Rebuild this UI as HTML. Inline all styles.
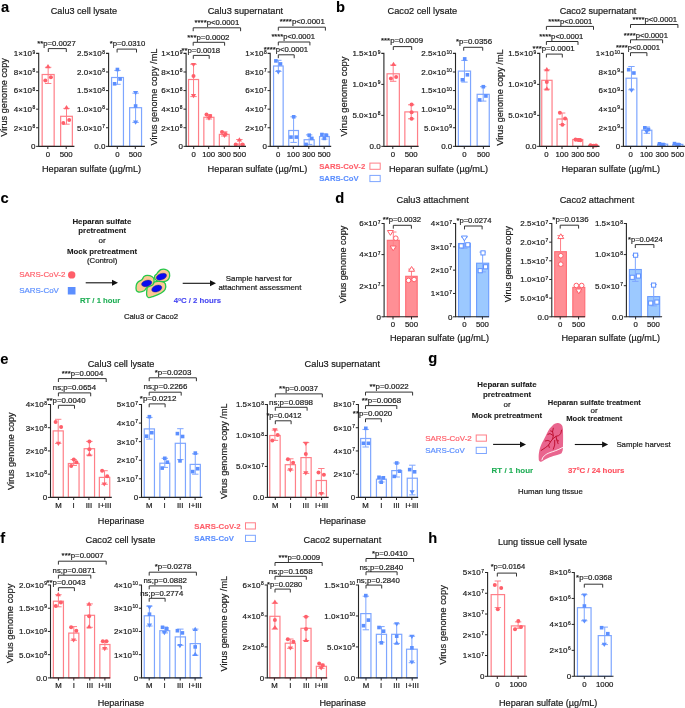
<!DOCTYPE html>
<html><head><meta charset="utf-8"><style>
html,body{margin:0;padding:0;background:#fff;}
svg{display:block;will-change:transform;}
text{font-family:"Liberation Sans",sans-serif;}
</style></head><body>
<svg width="685" height="708" viewBox="0 0 685 708">
<rect width="685" height="708" fill="#fff"/>
<text x="0.90" y="12.00" font-size="15.5" text-anchor="start" font-weight="bold" fill="#000" stroke="#000" stroke-width="0.1" textLength="8.19" lengthAdjust="spacingAndGlyphs">a</text>
<text x="335.90" y="12.00" font-size="15.5" text-anchor="start" font-weight="bold" fill="#000" stroke="#000" stroke-width="0.1" textLength="8.99" lengthAdjust="spacingAndGlyphs">b</text>
<text x="0.50" y="202.70" font-size="15.5" text-anchor="start" font-weight="bold" fill="#000" stroke="#000" stroke-width="0.1" textLength="8.19" lengthAdjust="spacingAndGlyphs">c</text>
<text x="335.30" y="202.70" font-size="15.5" text-anchor="start" font-weight="bold" fill="#000" stroke="#000" stroke-width="0.1" textLength="8.99" lengthAdjust="spacingAndGlyphs">d</text>
<text x="0.20" y="364.00" font-size="15.5" text-anchor="start" font-weight="bold" fill="#000" stroke="#000" stroke-width="0.1" textLength="8.19" lengthAdjust="spacingAndGlyphs">e</text>
<text x="428.30" y="363.20" font-size="15.5" text-anchor="start" font-weight="bold" fill="#000" stroke="#000" stroke-width="0.1" textLength="8.99" lengthAdjust="spacingAndGlyphs">g</text>
<text x="0.20" y="543.20" font-size="15.5" text-anchor="start" font-weight="bold" fill="#000" stroke="#000" stroke-width="0.1" textLength="4.90" lengthAdjust="spacingAndGlyphs">f</text>
<text x="428.30" y="543.20" font-size="15.5" text-anchor="start" font-weight="bold" fill="#000" stroke="#000" stroke-width="0.1" textLength="8.99" lengthAdjust="spacingAndGlyphs">h</text>
<text x="50.80" y="13.89" font-size="9.2" text-anchor="start" font-weight="normal" fill="#1a1a1a" stroke="#1a1a1a" stroke-width="0.2" textLength="66.20" lengthAdjust="spacingAndGlyphs">Calu3 cell lysate</text>
<text x="207.70" y="14.09" font-size="9.2" text-anchor="start" font-weight="normal" fill="#1a1a1a" stroke="#1a1a1a" stroke-width="0.2" textLength="75.40" lengthAdjust="spacingAndGlyphs">Calu3 supernatant</text>
<text x="387.50" y="14.29" font-size="9.2" text-anchor="start" font-weight="normal" fill="#1a1a1a" stroke="#1a1a1a" stroke-width="0.2" textLength="69.70" lengthAdjust="spacingAndGlyphs">Caco2 cell lysate</text>
<text x="559.70" y="14.29" font-size="9.2" text-anchor="start" font-weight="normal" fill="#1a1a1a" stroke="#1a1a1a" stroke-width="0.2" textLength="76.70" lengthAdjust="spacingAndGlyphs">Caco2 supernatant</text>
<text x="42.00" y="172.29" font-size="9.2" text-anchor="start" font-weight="normal" fill="#1a1a1a" stroke="#1a1a1a" stroke-width="0.2" textLength="99.10" lengthAdjust="spacingAndGlyphs">Heparan sulfate (µg/mL)</text>
<text x="207.60" y="172.29" font-size="9.2" text-anchor="start" font-weight="normal" fill="#1a1a1a" stroke="#1a1a1a" stroke-width="0.2" textLength="99.80" lengthAdjust="spacingAndGlyphs">Heparan sulfate (µg/mL)</text>
<text x="388.90" y="171.89" font-size="9.2" text-anchor="start" font-weight="normal" fill="#1a1a1a" stroke="#1a1a1a" stroke-width="0.2" textLength="99.30" lengthAdjust="spacingAndGlyphs">Heparan sulfate (µg/mL)</text>
<text x="561.50" y="171.89" font-size="9.2" text-anchor="start" font-weight="normal" fill="#1a1a1a" stroke="#1a1a1a" stroke-width="0.2" textLength="98.50" lengthAdjust="spacingAndGlyphs">Heparan sulfate (µg/mL)</text>
<text x="7.10" y="97.40" font-size="9.2" text-anchor="middle" fill="#1a1a1a" stroke="#1a1a1a" stroke-width="0.2" transform="rotate(-90 7.10 97.40)" textLength="78.60" lengthAdjust="spacingAndGlyphs">Virus genome copy</text>
<text x="156.50" y="97.00" font-size="9.2" text-anchor="middle" fill="#1a1a1a" stroke="#1a1a1a" stroke-width="0.2" transform="rotate(-90 156.50 97.00)" textLength="97.00" lengthAdjust="spacingAndGlyphs">Virus genome copy /mL</text>
<text x="346.60" y="96.50" font-size="9.2" text-anchor="middle" fill="#1a1a1a" stroke="#1a1a1a" stroke-width="0.2" transform="rotate(-90 346.60 96.50)" textLength="80.00" lengthAdjust="spacingAndGlyphs">Virus genome copy</text>
<text x="503.00" y="97.50" font-size="9.2" text-anchor="middle" fill="#1a1a1a" stroke="#1a1a1a" stroke-width="0.2" transform="rotate(-90 503.00 97.50)" textLength="96.40" lengthAdjust="spacingAndGlyphs">Virus genome copy /mL</text>
<text x="319.20" y="169.03" font-size="7.9" text-anchor="start" font-weight="bold" fill="#ff5f6a" stroke="#ff5f6a" stroke-width="0.1" textLength="46.00" lengthAdjust="spacingAndGlyphs">SARS-CoV-2</text>
<text x="319.20" y="181.33" font-size="7.9" text-anchor="start" font-weight="bold" fill="#5c8fff" stroke="#5c8fff" stroke-width="0.1" textLength="39.40" lengthAdjust="spacingAndGlyphs">SARS-CoV</text>
<rect x="369.90" y="163.10" width="10.30" height="6.2" fill="none" stroke="#ff7f88" stroke-width="1"/>
<rect x="369.90" y="175.40" width="10.30" height="6.2" fill="none" stroke="#7ea6ff" stroke-width="1"/>
<rect x="42.15" y="74.50" width="12.00" height="71.85" fill="none" stroke="#ff7f88" stroke-width="1.2"/>
<rect x="60.65" y="116.30" width="11.70" height="30.05" fill="none" stroke="#ff7f88" stroke-width="1.2"/>
<line x1="48.15" y1="67.30" x2="48.15" y2="83.50" stroke="#ff7f88" stroke-width="1.0"/>
<line x1="44.95" y1="67.30" x2="51.35" y2="67.30" stroke="#ff7f88" stroke-width="1.0"/>
<line x1="44.95" y1="83.50" x2="51.35" y2="83.50" stroke="#ff7f88" stroke-width="1.0"/>
<path d="M48.00,64.10 L50.60,68.29 L45.40,68.29Z" fill="#ff5f6a"/>
<circle cx="45.30" cy="80.40" r="2.00" fill="#ff5f6a"/>
<circle cx="50.90" cy="77.20" r="2.00" fill="#ff5f6a"/>
<line x1="66.50" y1="108.40" x2="66.50" y2="124.20" stroke="#ff7f88" stroke-width="1.0"/>
<line x1="63.30" y1="108.40" x2="69.70" y2="108.40" stroke="#ff7f88" stroke-width="1.0"/>
<line x1="63.30" y1="124.20" x2="69.70" y2="124.20" stroke="#ff7f88" stroke-width="1.0"/>
<path d="M66.50,105.10 L69.10,109.29 L63.90,109.29Z" fill="#ff5f6a"/>
<circle cx="63.30" cy="123.00" r="2.00" fill="#ff5f6a"/>
<circle cx="69.20" cy="119.90" r="2.00" fill="#ff5f6a"/>
<path d="M36.10,53.40 H38.70 V146.35 H74.40" fill="none" stroke="#262626" stroke-width="1.1"/>
<line x1="36.10" y1="71.99" x2="38.70" y2="71.99" stroke="#262626" stroke-width="1.0"/>
<line x1="36.10" y1="90.58" x2="38.70" y2="90.58" stroke="#262626" stroke-width="1.0"/>
<line x1="36.10" y1="109.17" x2="38.70" y2="109.17" stroke="#262626" stroke-width="1.0"/>
<line x1="36.10" y1="127.76" x2="38.70" y2="127.76" stroke="#262626" stroke-width="1.0"/>
<line x1="36.10" y1="146.35" x2="38.70" y2="146.35" stroke="#262626" stroke-width="1.0"/>
<text x="35.20" y="53.50" font-size="4.9" text-anchor="end" font-weight="normal" fill="#1a1a1a" stroke="#1a1a1a" stroke-width="0.2">9</text>
<text x="31.88" y="56.25" font-size="8.0" text-anchor="end" font-weight="normal" fill="#1a1a1a" stroke="#1a1a1a" stroke-width="0.2">1×10</text>
<text x="35.20" y="72.09" font-size="4.9" text-anchor="end" font-weight="normal" fill="#1a1a1a" stroke="#1a1a1a" stroke-width="0.2">8</text>
<text x="31.88" y="74.84" font-size="8.0" text-anchor="end" font-weight="normal" fill="#1a1a1a" stroke="#1a1a1a" stroke-width="0.2">8×10</text>
<text x="35.20" y="90.68" font-size="4.9" text-anchor="end" font-weight="normal" fill="#1a1a1a" stroke="#1a1a1a" stroke-width="0.2">8</text>
<text x="31.88" y="93.43" font-size="8.0" text-anchor="end" font-weight="normal" fill="#1a1a1a" stroke="#1a1a1a" stroke-width="0.2">6×10</text>
<text x="35.20" y="109.27" font-size="4.9" text-anchor="end" font-weight="normal" fill="#1a1a1a" stroke="#1a1a1a" stroke-width="0.2">8</text>
<text x="31.88" y="112.02" font-size="8.0" text-anchor="end" font-weight="normal" fill="#1a1a1a" stroke="#1a1a1a" stroke-width="0.2">4×10</text>
<text x="35.20" y="127.86" font-size="4.9" text-anchor="end" font-weight="normal" fill="#1a1a1a" stroke="#1a1a1a" stroke-width="0.2">8</text>
<text x="31.88" y="130.61" font-size="8.0" text-anchor="end" font-weight="normal" fill="#1a1a1a" stroke="#1a1a1a" stroke-width="0.2">2×10</text>
<text x="35.50" y="149.20" font-size="8.0" text-anchor="end" font-weight="normal" fill="#1a1a1a" stroke="#1a1a1a" stroke-width="0.2">0</text>
<line x1="47.80" y1="146.35" x2="47.80" y2="148.95" stroke="#262626" stroke-width="1.0"/>
<text x="47.80" y="156.85" font-size="7.8" text-anchor="middle" font-weight="normal" fill="#1a1a1a" stroke="#1a1a1a" stroke-width="0.2">0</text>
<line x1="66.20" y1="146.35" x2="66.20" y2="148.95" stroke="#262626" stroke-width="1.0"/>
<text x="66.20" y="156.85" font-size="7.8" text-anchor="middle" font-weight="normal" fill="#1a1a1a" stroke="#1a1a1a" stroke-width="0.2">500</text>
<path d="M48.30,52.00 V48.60 H66.30 V52.00" fill="none" stroke="#333" stroke-width="1"/>
<text x="37.20" y="46.26" font-size="8.0" text-anchor="start" font-weight="normal" fill="#1a1a1a" stroke="#1a1a1a" stroke-width="0.2" textLength="38.50" lengthAdjust="spacingAndGlyphs">**p=0.0027</text>
<rect x="111.55" y="77.50" width="11.90" height="68.85" fill="none" stroke="#7ea6ff" stroke-width="1.2"/>
<rect x="129.65" y="107.70" width="11.90" height="38.65" fill="none" stroke="#7ea6ff" stroke-width="1.2"/>
<line x1="117.50" y1="70.40" x2="117.50" y2="84.30" stroke="#7ea6ff" stroke-width="1.0"/>
<line x1="114.30" y1="70.40" x2="120.70" y2="70.40" stroke="#7ea6ff" stroke-width="1.0"/>
<line x1="114.30" y1="84.30" x2="120.70" y2="84.30" stroke="#7ea6ff" stroke-width="1.0"/>
<rect x="115.60" y="67.70" width="3.60" height="3.60" fill="#5c8fff"/>
<rect x="118.30" y="77.20" width="3.60" height="3.60" fill="#5c8fff"/>
<rect x="112.80" y="82.00" width="3.60" height="3.60" fill="#5c8fff"/>
<line x1="135.60" y1="93.20" x2="135.60" y2="122.40" stroke="#7ea6ff" stroke-width="1.0"/>
<line x1="132.40" y1="93.20" x2="138.80" y2="93.20" stroke="#7ea6ff" stroke-width="1.0"/>
<line x1="132.40" y1="122.40" x2="138.80" y2="122.40" stroke="#7ea6ff" stroke-width="1.0"/>
<path d="M135.60,95.30 L138.20,91.11 L133.00,91.11Z" fill="#5c8fff"/>
<rect x="133.80" y="104.20" width="3.60" height="3.60" fill="#5c8fff"/>
<path d="M135.60,124.70 L138.20,120.51 L133.00,120.51Z" fill="#5c8fff"/>
<path d="M106.00,53.40 H108.60 V146.35 H144.90" fill="none" stroke="#262626" stroke-width="1.1"/>
<line x1="106.00" y1="71.99" x2="108.60" y2="71.99" stroke="#262626" stroke-width="1.0"/>
<line x1="106.00" y1="90.58" x2="108.60" y2="90.58" stroke="#262626" stroke-width="1.0"/>
<line x1="106.00" y1="109.17" x2="108.60" y2="109.17" stroke="#262626" stroke-width="1.0"/>
<line x1="106.00" y1="127.76" x2="108.60" y2="127.76" stroke="#262626" stroke-width="1.0"/>
<line x1="106.00" y1="146.35" x2="108.60" y2="146.35" stroke="#262626" stroke-width="1.0"/>
<text x="105.10" y="53.50" font-size="4.9" text-anchor="end" font-weight="normal" fill="#1a1a1a" stroke="#1a1a1a" stroke-width="0.2">8</text>
<text x="101.78" y="56.25" font-size="8.0" text-anchor="end" font-weight="normal" fill="#1a1a1a" stroke="#1a1a1a" stroke-width="0.2">2.5×10</text>
<text x="105.10" y="72.09" font-size="4.9" text-anchor="end" font-weight="normal" fill="#1a1a1a" stroke="#1a1a1a" stroke-width="0.2">8</text>
<text x="101.78" y="74.84" font-size="8.0" text-anchor="end" font-weight="normal" fill="#1a1a1a" stroke="#1a1a1a" stroke-width="0.2">2.0×10</text>
<text x="105.10" y="90.68" font-size="4.9" text-anchor="end" font-weight="normal" fill="#1a1a1a" stroke="#1a1a1a" stroke-width="0.2">8</text>
<text x="101.78" y="93.43" font-size="8.0" text-anchor="end" font-weight="normal" fill="#1a1a1a" stroke="#1a1a1a" stroke-width="0.2">1.5×10</text>
<text x="105.10" y="109.27" font-size="4.9" text-anchor="end" font-weight="normal" fill="#1a1a1a" stroke="#1a1a1a" stroke-width="0.2">8</text>
<text x="101.78" y="112.02" font-size="8.0" text-anchor="end" font-weight="normal" fill="#1a1a1a" stroke="#1a1a1a" stroke-width="0.2">1.0×10</text>
<text x="105.10" y="127.86" font-size="4.9" text-anchor="end" font-weight="normal" fill="#1a1a1a" stroke="#1a1a1a" stroke-width="0.2">7</text>
<text x="101.78" y="130.61" font-size="8.0" text-anchor="end" font-weight="normal" fill="#1a1a1a" stroke="#1a1a1a" stroke-width="0.2">5.0×10</text>
<text x="105.40" y="149.20" font-size="8.0" text-anchor="end" font-weight="normal" fill="#1a1a1a" stroke="#1a1a1a" stroke-width="0.2">0.0</text>
<line x1="117.30" y1="146.35" x2="117.30" y2="148.95" stroke="#262626" stroke-width="1.0"/>
<text x="117.30" y="156.85" font-size="7.8" text-anchor="middle" font-weight="normal" fill="#1a1a1a" stroke="#1a1a1a" stroke-width="0.2">0</text>
<line x1="135.30" y1="146.35" x2="135.30" y2="148.95" stroke="#262626" stroke-width="1.0"/>
<text x="135.30" y="156.85" font-size="7.8" text-anchor="middle" font-weight="normal" fill="#1a1a1a" stroke="#1a1a1a" stroke-width="0.2">500</text>
<path d="M117.10,52.50 V49.10 H136.50 V52.50" fill="none" stroke="#333" stroke-width="1"/>
<text x="109.70" y="46.16" font-size="8.0" text-anchor="start" font-weight="normal" fill="#1a1a1a" stroke="#1a1a1a" stroke-width="0.2" textLength="35.50" lengthAdjust="spacingAndGlyphs">*p=0.0310</text>
<rect x="188.55" y="79.50" width="10.00" height="66.85" fill="none" stroke="#ff7f88" stroke-width="1.2"/>
<rect x="203.85" y="117.30" width="10.10" height="29.05" fill="none" stroke="#ff7f88" stroke-width="1.2"/>
<rect x="219.35" y="134.40" width="9.80" height="11.95" fill="none" stroke="#ff7f88" stroke-width="1.2"/>
<rect x="234.55" y="144.10" width="9.60" height="2.25" fill="none" stroke="#ff7f88" stroke-width="1.2"/>
<line x1="193.55" y1="64.30" x2="193.55" y2="96.60" stroke="#ff7f88" stroke-width="1.0"/>
<line x1="190.35" y1="64.30" x2="196.75" y2="64.30" stroke="#ff7f88" stroke-width="1.0"/>
<line x1="190.35" y1="96.60" x2="196.75" y2="96.60" stroke="#ff7f88" stroke-width="1.0"/>
<path d="M193.50,67.10 L196.10,62.91 L190.90,62.91Z" fill="#ff5f6a"/>
<circle cx="193.50" cy="76.10" r="2.00" fill="#ff5f6a"/>
<path d="M193.50,98.30 L196.10,94.11 L190.90,94.11Z" fill="#ff5f6a"/>
<line x1="208.90" y1="114.70" x2="208.90" y2="119.00" stroke="#ff7f88" stroke-width="1.0"/>
<line x1="205.70" y1="114.70" x2="212.10" y2="114.70" stroke="#ff7f88" stroke-width="1.0"/>
<line x1="205.70" y1="119.00" x2="212.10" y2="119.00" stroke="#ff7f88" stroke-width="1.0"/>
<circle cx="206.50" cy="114.40" r="2.00" fill="#ff5f6a"/>
<circle cx="210.20" cy="116.10" r="2.00" fill="#ff5f6a"/>
<path d="M209.00,120.70 L211.60,116.51 L206.40,116.51Z" fill="#ff5f6a"/>
<line x1="224.25" y1="131.80" x2="224.25" y2="136.00" stroke="#ff7f88" stroke-width="1.0"/>
<line x1="221.05" y1="131.80" x2="227.45" y2="131.80" stroke="#ff7f88" stroke-width="1.0"/>
<line x1="221.05" y1="136.00" x2="227.45" y2="136.00" stroke="#ff7f88" stroke-width="1.0"/>
<circle cx="222.00" cy="132.00" r="2.00" fill="#ff5f6a"/>
<circle cx="225.50" cy="133.90" r="2.00" fill="#ff5f6a"/>
<path d="M224.50,138.10 L227.10,133.91 L221.90,133.91Z" fill="#ff5f6a"/>
<line x1="239.35" y1="139.50" x2="239.35" y2="146.00" stroke="#ff7f88" stroke-width="1.0"/>
<line x1="236.15" y1="139.50" x2="242.55" y2="139.50" stroke="#ff7f88" stroke-width="1.0"/>
<line x1="236.15" y1="146.00" x2="242.55" y2="146.00" stroke="#ff7f88" stroke-width="1.0"/>
<path d="M239.40,137.20 L242.00,141.39 L236.80,141.39Z" fill="#ff5f6a"/>
<circle cx="235.70" cy="144.50" r="2.00" fill="#ff5f6a"/>
<circle cx="242.50" cy="144.50" r="2.00" fill="#ff5f6a"/>
<path d="M183.50,53.40 H186.10 V146.35 H246.00" fill="none" stroke="#262626" stroke-width="1.1"/>
<line x1="183.50" y1="71.99" x2="186.10" y2="71.99" stroke="#262626" stroke-width="1.0"/>
<line x1="183.50" y1="90.58" x2="186.10" y2="90.58" stroke="#262626" stroke-width="1.0"/>
<line x1="183.50" y1="109.17" x2="186.10" y2="109.17" stroke="#262626" stroke-width="1.0"/>
<line x1="183.50" y1="127.76" x2="186.10" y2="127.76" stroke="#262626" stroke-width="1.0"/>
<line x1="183.50" y1="146.35" x2="186.10" y2="146.35" stroke="#262626" stroke-width="1.0"/>
<text x="182.60" y="53.50" font-size="4.9" text-anchor="end" font-weight="normal" fill="#1a1a1a" stroke="#1a1a1a" stroke-width="0.2">9</text>
<text x="179.28" y="56.25" font-size="8.0" text-anchor="end" font-weight="normal" fill="#1a1a1a" stroke="#1a1a1a" stroke-width="0.2">1×10</text>
<text x="182.60" y="72.09" font-size="4.9" text-anchor="end" font-weight="normal" fill="#1a1a1a" stroke="#1a1a1a" stroke-width="0.2">8</text>
<text x="179.28" y="74.84" font-size="8.0" text-anchor="end" font-weight="normal" fill="#1a1a1a" stroke="#1a1a1a" stroke-width="0.2">8×10</text>
<text x="182.60" y="90.68" font-size="4.9" text-anchor="end" font-weight="normal" fill="#1a1a1a" stroke="#1a1a1a" stroke-width="0.2">8</text>
<text x="179.28" y="93.43" font-size="8.0" text-anchor="end" font-weight="normal" fill="#1a1a1a" stroke="#1a1a1a" stroke-width="0.2">6×10</text>
<text x="182.60" y="109.27" font-size="4.9" text-anchor="end" font-weight="normal" fill="#1a1a1a" stroke="#1a1a1a" stroke-width="0.2">8</text>
<text x="179.28" y="112.02" font-size="8.0" text-anchor="end" font-weight="normal" fill="#1a1a1a" stroke="#1a1a1a" stroke-width="0.2">4×10</text>
<text x="182.60" y="127.86" font-size="4.9" text-anchor="end" font-weight="normal" fill="#1a1a1a" stroke="#1a1a1a" stroke-width="0.2">8</text>
<text x="179.28" y="130.61" font-size="8.0" text-anchor="end" font-weight="normal" fill="#1a1a1a" stroke="#1a1a1a" stroke-width="0.2">2×10</text>
<text x="182.90" y="149.20" font-size="8.0" text-anchor="end" font-weight="normal" fill="#1a1a1a" stroke="#1a1a1a" stroke-width="0.2">0</text>
<line x1="193.70" y1="146.35" x2="193.70" y2="148.95" stroke="#262626" stroke-width="1.0"/>
<text x="193.70" y="156.85" font-size="7.8" text-anchor="middle" font-weight="normal" fill="#1a1a1a" stroke="#1a1a1a" stroke-width="0.2">0</text>
<line x1="208.70" y1="146.35" x2="208.70" y2="148.95" stroke="#262626" stroke-width="1.0"/>
<text x="208.70" y="156.85" font-size="7.8" text-anchor="middle" font-weight="normal" fill="#1a1a1a" stroke="#1a1a1a" stroke-width="0.2">100</text>
<line x1="224.30" y1="146.35" x2="224.30" y2="148.95" stroke="#262626" stroke-width="1.0"/>
<text x="224.30" y="156.85" font-size="7.8" text-anchor="middle" font-weight="normal" fill="#1a1a1a" stroke="#1a1a1a" stroke-width="0.2">300</text>
<line x1="239.50" y1="146.35" x2="239.50" y2="148.95" stroke="#262626" stroke-width="1.0"/>
<text x="239.50" y="156.85" font-size="7.8" text-anchor="middle" font-weight="normal" fill="#1a1a1a" stroke="#1a1a1a" stroke-width="0.2">500</text>
<path d="M193.30,58.80 V55.40 H209.20 V58.80" fill="none" stroke="#333" stroke-width="1"/>
<text x="181.50" y="52.86" font-size="8.0" text-anchor="start" font-weight="normal" fill="#1a1a1a" stroke="#1a1a1a" stroke-width="0.2" textLength="38.70" lengthAdjust="spacingAndGlyphs">**p=0.0018</text>
<path d="M193.20,45.70 V42.30 H224.60 V45.70" fill="none" stroke="#333" stroke-width="1"/>
<text x="187.30" y="39.76" font-size="8.0" text-anchor="start" font-weight="normal" fill="#1a1a1a" stroke="#1a1a1a" stroke-width="0.2" textLength="42.10" lengthAdjust="spacingAndGlyphs">***p=0.0002</text>
<path d="M193.20,31.20 V27.80 H240.60 V31.20" fill="none" stroke="#333" stroke-width="1"/>
<text x="194.60" y="25.06" font-size="8.0" text-anchor="start" font-weight="normal" fill="#1a1a1a" stroke="#1a1a1a" stroke-width="0.2" textLength="44.60" lengthAdjust="spacingAndGlyphs">****p&lt;0.0001</text>
<rect x="273.55" y="66.00" width="9.60" height="80.35" fill="none" stroke="#7ea6ff" stroke-width="1.2"/>
<rect x="288.75" y="130.50" width="9.70" height="15.85" fill="none" stroke="#7ea6ff" stroke-width="1.2"/>
<rect x="304.15" y="139.70" width="10.00" height="6.65" fill="none" stroke="#7ea6ff" stroke-width="1.2"/>
<rect x="319.55" y="136.50" width="9.70" height="9.85" fill="none" stroke="#7ea6ff" stroke-width="1.2"/>
<line x1="278.35" y1="60.30" x2="278.35" y2="71.40" stroke="#7ea6ff" stroke-width="1.0"/>
<line x1="275.15" y1="60.30" x2="281.55" y2="60.30" stroke="#7ea6ff" stroke-width="1.0"/>
<line x1="275.15" y1="71.40" x2="281.55" y2="71.40" stroke="#7ea6ff" stroke-width="1.0"/>
<rect x="274.10" y="59.10" width="3.60" height="3.60" fill="#5c8fff"/>
<rect x="278.70" y="62.10" width="3.60" height="3.60" fill="#5c8fff"/>
<path d="M278.30,74.40 L280.90,70.21 L275.70,70.21Z" fill="#5c8fff"/>
<line x1="293.60" y1="116.80" x2="293.60" y2="142.40" stroke="#7ea6ff" stroke-width="1.0"/>
<line x1="290.40" y1="116.80" x2="296.80" y2="116.80" stroke="#7ea6ff" stroke-width="1.0"/>
<line x1="290.40" y1="142.40" x2="296.80" y2="142.40" stroke="#7ea6ff" stroke-width="1.0"/>
<rect x="291.90" y="115.00" width="3.60" height="3.60" fill="#5c8fff"/>
<rect x="289.20" y="135.30" width="3.60" height="3.60" fill="#5c8fff"/>
<rect x="294.50" y="135.30" width="3.60" height="3.60" fill="#5c8fff"/>
<line x1="309.15" y1="134.90" x2="309.15" y2="144.40" stroke="#7ea6ff" stroke-width="1.0"/>
<line x1="305.95" y1="134.90" x2="312.35" y2="134.90" stroke="#7ea6ff" stroke-width="1.0"/>
<line x1="305.95" y1="144.40" x2="312.35" y2="144.40" stroke="#7ea6ff" stroke-width="1.0"/>
<rect x="307.40" y="133.40" width="3.60" height="3.60" fill="#5c8fff"/>
<rect x="310.00" y="136.60" width="3.60" height="3.60" fill="#5c8fff"/>
<rect x="304.30" y="142.60" width="3.60" height="3.60" fill="#5c8fff"/>
<line x1="324.40" y1="133.80" x2="324.40" y2="139.10" stroke="#7ea6ff" stroke-width="1.0"/>
<line x1="321.20" y1="133.80" x2="327.60" y2="133.80" stroke="#7ea6ff" stroke-width="1.0"/>
<line x1="321.20" y1="139.10" x2="327.60" y2="139.10" stroke="#7ea6ff" stroke-width="1.0"/>
<rect x="320.10" y="132.70" width="3.60" height="3.60" fill="#5c8fff"/>
<rect x="324.70" y="133.60" width="3.60" height="3.60" fill="#5c8fff"/>
<rect x="322.50" y="136.60" width="3.60" height="3.60" fill="#5c8fff"/>
<path d="M267.60,53.40 H270.20 V146.35 H331.20" fill="none" stroke="#262626" stroke-width="1.1"/>
<line x1="267.60" y1="71.99" x2="270.20" y2="71.99" stroke="#262626" stroke-width="1.0"/>
<line x1="267.60" y1="90.58" x2="270.20" y2="90.58" stroke="#262626" stroke-width="1.0"/>
<line x1="267.60" y1="109.17" x2="270.20" y2="109.17" stroke="#262626" stroke-width="1.0"/>
<line x1="267.60" y1="127.76" x2="270.20" y2="127.76" stroke="#262626" stroke-width="1.0"/>
<line x1="267.60" y1="146.35" x2="270.20" y2="146.35" stroke="#262626" stroke-width="1.0"/>
<text x="266.70" y="53.50" font-size="4.9" text-anchor="end" font-weight="normal" fill="#1a1a1a" stroke="#1a1a1a" stroke-width="0.2">8</text>
<text x="263.38" y="56.25" font-size="8.0" text-anchor="end" font-weight="normal" fill="#1a1a1a" stroke="#1a1a1a" stroke-width="0.2">1×10</text>
<text x="266.70" y="72.09" font-size="4.9" text-anchor="end" font-weight="normal" fill="#1a1a1a" stroke="#1a1a1a" stroke-width="0.2">7</text>
<text x="263.38" y="74.84" font-size="8.0" text-anchor="end" font-weight="normal" fill="#1a1a1a" stroke="#1a1a1a" stroke-width="0.2">8×10</text>
<text x="266.70" y="90.68" font-size="4.9" text-anchor="end" font-weight="normal" fill="#1a1a1a" stroke="#1a1a1a" stroke-width="0.2">7</text>
<text x="263.38" y="93.43" font-size="8.0" text-anchor="end" font-weight="normal" fill="#1a1a1a" stroke="#1a1a1a" stroke-width="0.2">6×10</text>
<text x="266.70" y="109.27" font-size="4.9" text-anchor="end" font-weight="normal" fill="#1a1a1a" stroke="#1a1a1a" stroke-width="0.2">7</text>
<text x="263.38" y="112.02" font-size="8.0" text-anchor="end" font-weight="normal" fill="#1a1a1a" stroke="#1a1a1a" stroke-width="0.2">4×10</text>
<text x="266.70" y="127.86" font-size="4.9" text-anchor="end" font-weight="normal" fill="#1a1a1a" stroke="#1a1a1a" stroke-width="0.2">7</text>
<text x="263.38" y="130.61" font-size="8.0" text-anchor="end" font-weight="normal" fill="#1a1a1a" stroke="#1a1a1a" stroke-width="0.2">2×10</text>
<text x="267.00" y="149.20" font-size="8.0" text-anchor="end" font-weight="normal" fill="#1a1a1a" stroke="#1a1a1a" stroke-width="0.2">0</text>
<line x1="278.10" y1="146.35" x2="278.10" y2="148.95" stroke="#262626" stroke-width="1.0"/>
<text x="278.10" y="156.85" font-size="7.8" text-anchor="middle" font-weight="normal" fill="#1a1a1a" stroke="#1a1a1a" stroke-width="0.2">0</text>
<line x1="293.30" y1="146.35" x2="293.30" y2="148.95" stroke="#262626" stroke-width="1.0"/>
<text x="293.30" y="156.85" font-size="7.8" text-anchor="middle" font-weight="normal" fill="#1a1a1a" stroke="#1a1a1a" stroke-width="0.2">100</text>
<line x1="308.80" y1="146.35" x2="308.80" y2="148.95" stroke="#262626" stroke-width="1.0"/>
<text x="308.80" y="156.85" font-size="7.8" text-anchor="middle" font-weight="normal" fill="#1a1a1a" stroke="#1a1a1a" stroke-width="0.2">300</text>
<line x1="324.20" y1="146.35" x2="324.20" y2="148.95" stroke="#262626" stroke-width="1.0"/>
<text x="324.20" y="156.85" font-size="7.8" text-anchor="middle" font-weight="normal" fill="#1a1a1a" stroke="#1a1a1a" stroke-width="0.2">500</text>
<path d="M278.30,58.20 V54.80 H294.20 V58.20" fill="none" stroke="#333" stroke-width="1"/>
<text x="263.70" y="51.86" font-size="8.0" text-anchor="start" font-weight="normal" fill="#1a1a1a" stroke="#1a1a1a" stroke-width="0.2" textLength="44.40" lengthAdjust="spacingAndGlyphs">****p&lt;0.0001</text>
<path d="M278.30,45.40 V42.00 H309.90 V45.40" fill="none" stroke="#333" stroke-width="1"/>
<text x="271.40" y="39.36" font-size="8.0" text-anchor="start" font-weight="normal" fill="#1a1a1a" stroke="#1a1a1a" stroke-width="0.2" textLength="43.60" lengthAdjust="spacingAndGlyphs">****p&lt;0.0001</text>
<path d="M278.30,30.60 V27.20 H325.40 V30.60" fill="none" stroke="#333" stroke-width="1"/>
<text x="279.70" y="24.06" font-size="8.0" text-anchor="start" font-weight="normal" fill="#1a1a1a" stroke="#1a1a1a" stroke-width="0.2" textLength="45.10" lengthAdjust="spacingAndGlyphs">****p&lt;0.0001</text>
<rect x="387.05" y="73.80" width="12.30" height="72.55" fill="none" stroke="#ff7f88" stroke-width="1.2"/>
<rect x="404.85" y="111.90" width="12.70" height="34.45" fill="none" stroke="#ff7f88" stroke-width="1.2"/>
<line x1="393.20" y1="65.10" x2="393.20" y2="81.30" stroke="#ff7f88" stroke-width="1.0"/>
<line x1="390.00" y1="65.10" x2="396.40" y2="65.10" stroke="#ff7f88" stroke-width="1.0"/>
<line x1="390.00" y1="81.30" x2="396.40" y2="81.30" stroke="#ff7f88" stroke-width="1.0"/>
<path d="M393.50,61.70 L396.10,65.89 L390.90,65.89Z" fill="#ff5f6a"/>
<circle cx="390.90" cy="78.50" r="2.00" fill="#ff5f6a"/>
<circle cx="396.10" cy="77.00" r="2.00" fill="#ff5f6a"/>
<line x1="411.20" y1="104.80" x2="411.20" y2="118.80" stroke="#ff7f88" stroke-width="1.0"/>
<line x1="408.00" y1="104.80" x2="414.40" y2="104.80" stroke="#ff7f88" stroke-width="1.0"/>
<line x1="408.00" y1="118.80" x2="414.40" y2="118.80" stroke="#ff7f88" stroke-width="1.0"/>
<circle cx="411.60" cy="104.50" r="2.00" fill="#ff5f6a"/>
<circle cx="411.60" cy="112.30" r="2.00" fill="#ff5f6a"/>
<circle cx="411.60" cy="118.80" r="2.00" fill="#ff5f6a"/>
<path d="M381.30,53.40 H383.90 V146.35 H418.60" fill="none" stroke="#262626" stroke-width="1.1"/>
<line x1="381.30" y1="84.38" x2="383.90" y2="84.38" stroke="#262626" stroke-width="1.0"/>
<line x1="381.30" y1="115.37" x2="383.90" y2="115.37" stroke="#262626" stroke-width="1.0"/>
<line x1="381.30" y1="146.35" x2="383.90" y2="146.35" stroke="#262626" stroke-width="1.0"/>
<text x="380.40" y="53.50" font-size="4.9" text-anchor="end" font-weight="normal" fill="#1a1a1a" stroke="#1a1a1a" stroke-width="0.2">9</text>
<text x="377.08" y="56.25" font-size="8.0" text-anchor="end" font-weight="normal" fill="#1a1a1a" stroke="#1a1a1a" stroke-width="0.2">1.5×10</text>
<text x="380.40" y="84.48" font-size="4.9" text-anchor="end" font-weight="normal" fill="#1a1a1a" stroke="#1a1a1a" stroke-width="0.2">9</text>
<text x="377.08" y="87.23" font-size="8.0" text-anchor="end" font-weight="normal" fill="#1a1a1a" stroke="#1a1a1a" stroke-width="0.2">1.0×10</text>
<text x="380.40" y="115.47" font-size="4.9" text-anchor="end" font-weight="normal" fill="#1a1a1a" stroke="#1a1a1a" stroke-width="0.2">8</text>
<text x="377.08" y="118.22" font-size="8.0" text-anchor="end" font-weight="normal" fill="#1a1a1a" stroke="#1a1a1a" stroke-width="0.2">5.0×10</text>
<text x="380.70" y="149.20" font-size="8.0" text-anchor="end" font-weight="normal" fill="#1a1a1a" stroke="#1a1a1a" stroke-width="0.2">0.0</text>
<line x1="392.80" y1="146.35" x2="392.80" y2="148.95" stroke="#262626" stroke-width="1.0"/>
<text x="392.80" y="156.85" font-size="7.8" text-anchor="middle" font-weight="normal" fill="#1a1a1a" stroke="#1a1a1a" stroke-width="0.2">0</text>
<line x1="411.20" y1="146.35" x2="411.20" y2="148.95" stroke="#262626" stroke-width="1.0"/>
<text x="411.20" y="156.85" font-size="7.8" text-anchor="middle" font-weight="normal" fill="#1a1a1a" stroke="#1a1a1a" stroke-width="0.2">500</text>
<path d="M393.30,50.00 V46.60 H411.70 V50.00" fill="none" stroke="#333" stroke-width="1"/>
<text x="381.00" y="43.36" font-size="8.0" text-anchor="start" font-weight="normal" fill="#1a1a1a" stroke="#1a1a1a" stroke-width="0.2" textLength="42.00" lengthAdjust="spacingAndGlyphs">***p=0.0009</text>
<rect x="458.35" y="71.10" width="12.20" height="75.25" fill="none" stroke="#7ea6ff" stroke-width="1.2"/>
<rect x="477.15" y="94.30" width="12.10" height="52.05" fill="none" stroke="#7ea6ff" stroke-width="1.2"/>
<line x1="464.45" y1="60.40" x2="464.45" y2="82.10" stroke="#7ea6ff" stroke-width="1.0"/>
<line x1="461.25" y1="60.40" x2="467.65" y2="60.40" stroke="#7ea6ff" stroke-width="1.0"/>
<line x1="461.25" y1="82.10" x2="467.65" y2="82.10" stroke="#7ea6ff" stroke-width="1.0"/>
<rect x="462.90" y="57.10" width="3.60" height="3.60" fill="#5c8fff"/>
<rect x="465.60" y="73.00" width="3.60" height="3.60" fill="#5c8fff"/>
<rect x="460.60" y="78.00" width="3.60" height="3.60" fill="#5c8fff"/>
<line x1="483.20" y1="86.70" x2="483.20" y2="101.10" stroke="#7ea6ff" stroke-width="1.0"/>
<line x1="480.00" y1="86.70" x2="486.40" y2="86.70" stroke="#7ea6ff" stroke-width="1.0"/>
<line x1="480.00" y1="101.10" x2="486.40" y2="101.10" stroke="#7ea6ff" stroke-width="1.0"/>
<rect x="481.50" y="84.90" width="3.60" height="3.60" fill="#5c8fff"/>
<rect x="484.10" y="94.20" width="3.60" height="3.60" fill="#5c8fff"/>
<rect x="477.90" y="98.10" width="3.60" height="3.60" fill="#5c8fff"/>
<path d="M452.90,53.40 H455.50 V146.35 H490.00" fill="none" stroke="#262626" stroke-width="1.1"/>
<line x1="452.90" y1="71.99" x2="455.50" y2="71.99" stroke="#262626" stroke-width="1.0"/>
<line x1="452.90" y1="90.58" x2="455.50" y2="90.58" stroke="#262626" stroke-width="1.0"/>
<line x1="452.90" y1="109.17" x2="455.50" y2="109.17" stroke="#262626" stroke-width="1.0"/>
<line x1="452.90" y1="127.76" x2="455.50" y2="127.76" stroke="#262626" stroke-width="1.0"/>
<line x1="452.90" y1="146.35" x2="455.50" y2="146.35" stroke="#262626" stroke-width="1.0"/>
<text x="452.00" y="53.50" font-size="4.9" text-anchor="end" font-weight="normal" fill="#1a1a1a" stroke="#1a1a1a" stroke-width="0.2">10</text>
<text x="445.95" y="56.25" font-size="8.0" text-anchor="end" font-weight="normal" fill="#1a1a1a" stroke="#1a1a1a" stroke-width="0.2">2.5×10</text>
<text x="452.00" y="72.09" font-size="4.9" text-anchor="end" font-weight="normal" fill="#1a1a1a" stroke="#1a1a1a" stroke-width="0.2">10</text>
<text x="445.95" y="74.84" font-size="8.0" text-anchor="end" font-weight="normal" fill="#1a1a1a" stroke="#1a1a1a" stroke-width="0.2">2.0×10</text>
<text x="452.00" y="90.68" font-size="4.9" text-anchor="end" font-weight="normal" fill="#1a1a1a" stroke="#1a1a1a" stroke-width="0.2">10</text>
<text x="445.95" y="93.43" font-size="8.0" text-anchor="end" font-weight="normal" fill="#1a1a1a" stroke="#1a1a1a" stroke-width="0.2">1.5×10</text>
<text x="452.00" y="109.27" font-size="4.9" text-anchor="end" font-weight="normal" fill="#1a1a1a" stroke="#1a1a1a" stroke-width="0.2">10</text>
<text x="445.95" y="112.02" font-size="8.0" text-anchor="end" font-weight="normal" fill="#1a1a1a" stroke="#1a1a1a" stroke-width="0.2">1.0×10</text>
<text x="452.00" y="127.86" font-size="4.9" text-anchor="end" font-weight="normal" fill="#1a1a1a" stroke="#1a1a1a" stroke-width="0.2">9</text>
<text x="448.68" y="130.61" font-size="8.0" text-anchor="end" font-weight="normal" fill="#1a1a1a" stroke="#1a1a1a" stroke-width="0.2">5.0×10</text>
<text x="452.30" y="149.20" font-size="8.0" text-anchor="end" font-weight="normal" fill="#1a1a1a" stroke="#1a1a1a" stroke-width="0.2">0.0</text>
<line x1="464.30" y1="146.35" x2="464.30" y2="148.95" stroke="#262626" stroke-width="1.0"/>
<text x="464.30" y="156.85" font-size="7.8" text-anchor="middle" font-weight="normal" fill="#1a1a1a" stroke="#1a1a1a" stroke-width="0.2">0</text>
<line x1="483.40" y1="146.35" x2="483.40" y2="148.95" stroke="#262626" stroke-width="1.0"/>
<text x="483.40" y="156.85" font-size="7.8" text-anchor="middle" font-weight="normal" fill="#1a1a1a" stroke="#1a1a1a" stroke-width="0.2">500</text>
<path d="M463.70,50.70 V47.30 H482.70 V50.70" fill="none" stroke="#333" stroke-width="1"/>
<text x="455.90" y="43.86" font-size="8.0" text-anchor="start" font-weight="normal" fill="#1a1a1a" stroke="#1a1a1a" stroke-width="0.2" textLength="36.20" lengthAdjust="spacingAndGlyphs">*p=0.0356</text>
<rect x="541.75" y="80.30" width="10.30" height="66.05" fill="none" stroke="#ff7f88" stroke-width="1.2"/>
<rect x="557.05" y="119.00" width="10.20" height="27.35" fill="none" stroke="#ff7f88" stroke-width="1.2"/>
<rect x="572.75" y="139.50" width="10.00" height="6.85" fill="none" stroke="#ff7f88" stroke-width="1.2"/>
<rect x="588.55" y="145.50" width="9.50" height="0.85" fill="none" stroke="#ff7f88" stroke-width="1.2"/>
<line x1="546.90" y1="69.90" x2="546.90" y2="89.20" stroke="#ff7f88" stroke-width="1.0"/>
<line x1="543.70" y1="69.90" x2="550.10" y2="69.90" stroke="#ff7f88" stroke-width="1.0"/>
<line x1="543.70" y1="89.20" x2="550.10" y2="89.20" stroke="#ff7f88" stroke-width="1.0"/>
<path d="M546.80,67.00 L549.40,71.19 L544.20,71.19Z" fill="#ff5f6a"/>
<circle cx="546.80" cy="82.10" r="2.00" fill="#ff5f6a"/>
<path d="M546.80,86.30 L549.40,90.49 L544.20,90.49Z" fill="#ff5f6a"/>
<line x1="562.15" y1="113.00" x2="562.15" y2="124.60" stroke="#ff7f88" stroke-width="1.0"/>
<line x1="558.95" y1="113.00" x2="565.35" y2="113.00" stroke="#ff7f88" stroke-width="1.0"/>
<line x1="558.95" y1="124.60" x2="565.35" y2="124.60" stroke="#ff7f88" stroke-width="1.0"/>
<circle cx="559.90" cy="112.80" r="2.00" fill="#ff5f6a"/>
<circle cx="565.10" cy="118.60" r="2.00" fill="#ff5f6a"/>
<circle cx="562.40" cy="124.80" r="2.00" fill="#ff5f6a"/>
<line x1="577.75" y1="138.50" x2="577.75" y2="141.00" stroke="#ff7f88" stroke-width="1.0"/>
<line x1="574.55" y1="138.50" x2="580.95" y2="138.50" stroke="#ff7f88" stroke-width="1.0"/>
<line x1="574.55" y1="141.00" x2="580.95" y2="141.00" stroke="#ff7f88" stroke-width="1.0"/>
<circle cx="575.50" cy="139.50" r="2.00" fill="#ff5f6a"/>
<circle cx="578.50" cy="140.00" r="2.00" fill="#ff5f6a"/>
<circle cx="580.50" cy="140.30" r="2.00" fill="#ff5f6a"/>
<line x1="593.30" y1="144.50" x2="593.30" y2="146.00" stroke="#ff7f88" stroke-width="1.0"/>
<line x1="590.10" y1="144.50" x2="596.50" y2="144.50" stroke="#ff7f88" stroke-width="1.0"/>
<line x1="590.10" y1="146.00" x2="596.50" y2="146.00" stroke="#ff7f88" stroke-width="1.0"/>
<circle cx="590.50" cy="145.30" r="2.00" fill="#ff5f6a"/>
<circle cx="593.50" cy="145.80" r="2.00" fill="#ff5f6a"/>
<circle cx="596.00" cy="145.50" r="2.00" fill="#ff5f6a"/>
<path d="M537.10,53.40 H539.70 V146.35 H599.60" fill="none" stroke="#262626" stroke-width="1.1"/>
<line x1="537.10" y1="84.38" x2="539.70" y2="84.38" stroke="#262626" stroke-width="1.0"/>
<line x1="537.10" y1="115.37" x2="539.70" y2="115.37" stroke="#262626" stroke-width="1.0"/>
<line x1="537.10" y1="146.35" x2="539.70" y2="146.35" stroke="#262626" stroke-width="1.0"/>
<text x="536.20" y="53.50" font-size="4.9" text-anchor="end" font-weight="normal" fill="#1a1a1a" stroke="#1a1a1a" stroke-width="0.2">9</text>
<text x="532.88" y="56.25" font-size="8.0" text-anchor="end" font-weight="normal" fill="#1a1a1a" stroke="#1a1a1a" stroke-width="0.2">1.5×10</text>
<text x="536.20" y="84.48" font-size="4.9" text-anchor="end" font-weight="normal" fill="#1a1a1a" stroke="#1a1a1a" stroke-width="0.2">9</text>
<text x="532.88" y="87.23" font-size="8.0" text-anchor="end" font-weight="normal" fill="#1a1a1a" stroke="#1a1a1a" stroke-width="0.2">1.0×10</text>
<text x="536.20" y="115.47" font-size="4.9" text-anchor="end" font-weight="normal" fill="#1a1a1a" stroke="#1a1a1a" stroke-width="0.2">8</text>
<text x="532.88" y="118.22" font-size="8.0" text-anchor="end" font-weight="normal" fill="#1a1a1a" stroke="#1a1a1a" stroke-width="0.2">5.0×10</text>
<text x="536.50" y="149.20" font-size="8.0" text-anchor="end" font-weight="normal" fill="#1a1a1a" stroke="#1a1a1a" stroke-width="0.2">0.0</text>
<line x1="546.50" y1="146.35" x2="546.50" y2="148.95" stroke="#262626" stroke-width="1.0"/>
<text x="546.50" y="156.85" font-size="7.8" text-anchor="middle" font-weight="normal" fill="#1a1a1a" stroke="#1a1a1a" stroke-width="0.2">0</text>
<line x1="562.00" y1="146.35" x2="562.00" y2="148.95" stroke="#262626" stroke-width="1.0"/>
<text x="562.00" y="156.85" font-size="7.8" text-anchor="middle" font-weight="normal" fill="#1a1a1a" stroke="#1a1a1a" stroke-width="0.2">100</text>
<line x1="577.80" y1="146.35" x2="577.80" y2="148.95" stroke="#262626" stroke-width="1.0"/>
<text x="577.80" y="156.85" font-size="7.8" text-anchor="middle" font-weight="normal" fill="#1a1a1a" stroke="#1a1a1a" stroke-width="0.2">300</text>
<line x1="593.00" y1="146.35" x2="593.00" y2="148.95" stroke="#262626" stroke-width="1.0"/>
<text x="593.00" y="156.85" font-size="7.8" text-anchor="middle" font-weight="normal" fill="#1a1a1a" stroke="#1a1a1a" stroke-width="0.2">500</text>
<path d="M546.40,57.50 V54.10 H562.30 V57.50" fill="none" stroke="#333" stroke-width="1"/>
<text x="532.60" y="51.26" font-size="8.0" text-anchor="start" font-weight="normal" fill="#1a1a1a" stroke="#1a1a1a" stroke-width="0.2" textLength="42.00" lengthAdjust="spacingAndGlyphs">***p=0.0001</text>
<path d="M546.40,44.90 V41.50 H578.00 V44.90" fill="none" stroke="#333" stroke-width="1"/>
<text x="539.20" y="39.06" font-size="8.0" text-anchor="start" font-weight="normal" fill="#1a1a1a" stroke="#1a1a1a" stroke-width="0.2" textLength="44.10" lengthAdjust="spacingAndGlyphs">****p&lt;0.0001</text>
<path d="M546.40,29.80 V26.40 H593.50 V29.80" fill="none" stroke="#333" stroke-width="1"/>
<text x="548.20" y="23.56" font-size="8.0" text-anchor="start" font-weight="normal" fill="#1a1a1a" stroke="#1a1a1a" stroke-width="0.2" textLength="44.00" lengthAdjust="spacingAndGlyphs">****p&lt;0.0001</text>
<rect x="626.05" y="78.20" width="10.80" height="68.15" fill="none" stroke="#7ea6ff" stroke-width="1.2"/>
<rect x="641.85" y="130.20" width="10.00" height="16.15" fill="none" stroke="#7ea6ff" stroke-width="1.2"/>
<rect x="657.65" y="144.20" width="10.00" height="2.15" fill="none" stroke="#7ea6ff" stroke-width="1.2"/>
<rect x="672.85" y="144.40" width="10.00" height="1.95" fill="none" stroke="#7ea6ff" stroke-width="1.2"/>
<line x1="631.45" y1="66.50" x2="631.45" y2="89.80" stroke="#7ea6ff" stroke-width="1.0"/>
<line x1="628.25" y1="66.50" x2="634.65" y2="66.50" stroke="#7ea6ff" stroke-width="1.0"/>
<line x1="628.25" y1="89.80" x2="634.65" y2="89.80" stroke="#7ea6ff" stroke-width="1.0"/>
<rect x="626.90" y="67.90" width="3.60" height="3.60" fill="#5c8fff"/>
<rect x="632.10" y="71.20" width="3.60" height="3.60" fill="#5c8fff"/>
<path d="M631.50,92.70 L634.10,88.51 L628.90,88.51Z" fill="#5c8fff"/>
<line x1="646.85" y1="127.00" x2="646.85" y2="133.30" stroke="#7ea6ff" stroke-width="1.0"/>
<line x1="643.65" y1="127.00" x2="650.05" y2="127.00" stroke="#7ea6ff" stroke-width="1.0"/>
<line x1="643.65" y1="133.30" x2="650.05" y2="133.30" stroke="#7ea6ff" stroke-width="1.0"/>
<rect x="643.00" y="126.00" width="3.60" height="3.60" fill="#5c8fff"/>
<rect x="646.70" y="127.70" width="3.60" height="3.60" fill="#5c8fff"/>
<path d="M646.70,134.30 L649.30,130.11 L644.10,130.11Z" fill="#5c8fff"/>
<line x1="662.65" y1="143.50" x2="662.65" y2="145.50" stroke="#7ea6ff" stroke-width="1.0"/>
<line x1="659.45" y1="143.50" x2="665.85" y2="143.50" stroke="#7ea6ff" stroke-width="1.0"/>
<line x1="659.45" y1="145.50" x2="665.85" y2="145.50" stroke="#7ea6ff" stroke-width="1.0"/>
<rect x="657.70" y="142.00" width="3.60" height="3.60" fill="#5c8fff"/>
<rect x="661.20" y="142.70" width="3.60" height="3.60" fill="#5c8fff"/>
<path d="M661.50,147.80 L664.10,143.61 L658.90,143.61Z" fill="#5c8fff"/>
<line x1="677.85" y1="143.50" x2="677.85" y2="145.50" stroke="#7ea6ff" stroke-width="1.0"/>
<line x1="674.65" y1="143.50" x2="681.05" y2="143.50" stroke="#7ea6ff" stroke-width="1.0"/>
<line x1="674.65" y1="145.50" x2="681.05" y2="145.50" stroke="#7ea6ff" stroke-width="1.0"/>
<rect x="672.70" y="141.80" width="3.60" height="3.60" fill="#5c8fff"/>
<rect x="676.20" y="142.70" width="3.60" height="3.60" fill="#5c8fff"/>
<path d="M678.50,147.80 L681.10,143.61 L675.90,143.61Z" fill="#5c8fff"/>
<path d="M620.80,53.40 H623.40 V146.35 H685.00" fill="none" stroke="#262626" stroke-width="1.1"/>
<line x1="620.80" y1="71.99" x2="623.40" y2="71.99" stroke="#262626" stroke-width="1.0"/>
<line x1="620.80" y1="90.58" x2="623.40" y2="90.58" stroke="#262626" stroke-width="1.0"/>
<line x1="620.80" y1="109.17" x2="623.40" y2="109.17" stroke="#262626" stroke-width="1.0"/>
<line x1="620.80" y1="127.76" x2="623.40" y2="127.76" stroke="#262626" stroke-width="1.0"/>
<line x1="620.80" y1="146.35" x2="623.40" y2="146.35" stroke="#262626" stroke-width="1.0"/>
<text x="619.90" y="53.50" font-size="4.9" text-anchor="end" font-weight="normal" fill="#1a1a1a" stroke="#1a1a1a" stroke-width="0.2">10</text>
<text x="613.85" y="56.25" font-size="8.0" text-anchor="end" font-weight="normal" fill="#1a1a1a" stroke="#1a1a1a" stroke-width="0.2">1×10</text>
<text x="619.90" y="72.09" font-size="4.9" text-anchor="end" font-weight="normal" fill="#1a1a1a" stroke="#1a1a1a" stroke-width="0.2">9</text>
<text x="616.58" y="74.84" font-size="8.0" text-anchor="end" font-weight="normal" fill="#1a1a1a" stroke="#1a1a1a" stroke-width="0.2">8×10</text>
<text x="619.90" y="90.68" font-size="4.9" text-anchor="end" font-weight="normal" fill="#1a1a1a" stroke="#1a1a1a" stroke-width="0.2">9</text>
<text x="616.58" y="93.43" font-size="8.0" text-anchor="end" font-weight="normal" fill="#1a1a1a" stroke="#1a1a1a" stroke-width="0.2">6×10</text>
<text x="619.90" y="109.27" font-size="4.9" text-anchor="end" font-weight="normal" fill="#1a1a1a" stroke="#1a1a1a" stroke-width="0.2">9</text>
<text x="616.58" y="112.02" font-size="8.0" text-anchor="end" font-weight="normal" fill="#1a1a1a" stroke="#1a1a1a" stroke-width="0.2">4×10</text>
<text x="619.90" y="127.86" font-size="4.9" text-anchor="end" font-weight="normal" fill="#1a1a1a" stroke="#1a1a1a" stroke-width="0.2">9</text>
<text x="616.58" y="130.61" font-size="8.0" text-anchor="end" font-weight="normal" fill="#1a1a1a" stroke="#1a1a1a" stroke-width="0.2">2×10</text>
<text x="620.20" y="149.20" font-size="8.0" text-anchor="end" font-weight="normal" fill="#1a1a1a" stroke="#1a1a1a" stroke-width="0.2">0</text>
<line x1="630.60" y1="146.35" x2="630.60" y2="148.95" stroke="#262626" stroke-width="1.0"/>
<text x="630.60" y="156.85" font-size="7.8" text-anchor="middle" font-weight="normal" fill="#1a1a1a" stroke="#1a1a1a" stroke-width="0.2">0</text>
<line x1="646.40" y1="146.35" x2="646.40" y2="148.95" stroke="#262626" stroke-width="1.0"/>
<text x="646.40" y="156.85" font-size="7.8" text-anchor="middle" font-weight="normal" fill="#1a1a1a" stroke="#1a1a1a" stroke-width="0.2">100</text>
<line x1="662.10" y1="146.35" x2="662.10" y2="148.95" stroke="#262626" stroke-width="1.0"/>
<text x="662.10" y="156.85" font-size="7.8" text-anchor="middle" font-weight="normal" fill="#1a1a1a" stroke="#1a1a1a" stroke-width="0.2">300</text>
<line x1="677.60" y1="146.35" x2="677.60" y2="148.95" stroke="#262626" stroke-width="1.0"/>
<text x="677.60" y="156.85" font-size="7.8" text-anchor="middle" font-weight="normal" fill="#1a1a1a" stroke="#1a1a1a" stroke-width="0.2">500</text>
<path d="M630.50,56.10 V52.70 H646.90 V56.10" fill="none" stroke="#333" stroke-width="1"/>
<text x="615.90" y="49.86" font-size="8.0" text-anchor="start" font-weight="normal" fill="#1a1a1a" stroke="#1a1a1a" stroke-width="0.2" textLength="44.10" lengthAdjust="spacingAndGlyphs">****p&lt;0.0001</text>
<path d="M630.50,43.20 V39.80 H662.60 V43.20" fill="none" stroke="#333" stroke-width="1"/>
<text x="623.80" y="37.86" font-size="8.0" text-anchor="start" font-weight="normal" fill="#1a1a1a" stroke="#1a1a1a" stroke-width="0.2" textLength="44.10" lengthAdjust="spacingAndGlyphs">****p&lt;0.0001</text>
<path d="M630.50,27.90 V24.50 H677.90 V27.90" fill="none" stroke="#333" stroke-width="1"/>
<text x="632.40" y="22.16" font-size="8.0" text-anchor="start" font-weight="normal" fill="#1a1a1a" stroke="#1a1a1a" stroke-width="0.2" textLength="44.70" lengthAdjust="spacingAndGlyphs">****p&lt;0.0001</text>
<text x="72.40" y="224.26" font-size="8" text-anchor="start" font-weight="bold" fill="#1a1a1a" stroke="#1a1a1a" stroke-width="0.1" textLength="58.90" lengthAdjust="spacingAndGlyphs">Heparan sulfate</text>
<text x="78.30" y="233.06" font-size="8" text-anchor="start" font-weight="bold" fill="#1a1a1a" stroke="#1a1a1a" stroke-width="0.1" textLength="47.90" lengthAdjust="spacingAndGlyphs">pretreatment</text>
<text x="102.10" y="242.78" font-size="8" text-anchor="middle" font-weight="normal" fill="#1a1a1a" stroke="#1a1a1a" stroke-width="0.2">or</text>
<text x="67.00" y="253.66" font-size="8" text-anchor="start" font-weight="bold" fill="#1a1a1a" stroke="#1a1a1a" stroke-width="0.1" textLength="70.10" lengthAdjust="spacingAndGlyphs">Mock pretreatment</text>
<text x="86.90" y="262.74" font-size="8" text-anchor="start" font-weight="normal" fill="#1a1a1a" stroke="#1a1a1a" stroke-width="0.2" textLength="30.40" lengthAdjust="spacingAndGlyphs">(Control)</text>
<text x="19.20" y="277.46" font-size="8" text-anchor="start" font-weight="normal" fill="#ff5f6a" stroke="#ff5f6a" stroke-width="0.2" textLength="46.20" lengthAdjust="spacingAndGlyphs">SARS-CoV-2</text>
<text x="19.20" y="293.16" font-size="8" text-anchor="start" font-weight="normal" fill="#5c8fff" stroke="#5c8fff" stroke-width="0.2" textLength="39.70" lengthAdjust="spacingAndGlyphs">SARS-CoV</text>
<circle cx="71.7" cy="274.9" r="3.7" fill="#ff5f6a"/>
<rect x="67.8" y="287" width="7.7" height="7.5" fill="#5c8fff"/>
<line x1="85.70" y1="282.80" x2="113.00" y2="282.80" stroke="#111" stroke-width="1.1"/>
<path d="M118.00,282.80 L112.00,279.80 L112.00,285.80Z" fill="#111"/>
<text x="79.90" y="303.16" font-size="8" text-anchor="start" font-weight="bold" fill="#1fae55" stroke="#1fae55" stroke-width="0.1" textLength="40.40" lengthAdjust="spacingAndGlyphs">RT / 1 hour</text>
<line x1="182.70" y1="283.30" x2="211.00" y2="283.30" stroke="#111" stroke-width="1.1"/>
<path d="M216.00,283.30 L210.00,280.30 L210.00,286.30Z" fill="#111"/>
<text x="173.8" y="303.30" font-size="8" font-weight="bold" fill="#4646f2" stroke="#4646f2" stroke-width="0.1" textLength="47.4" lengthAdjust="spacingAndGlyphs">4<tspan font-size="4.6" dy="-2.4">o</tspan><tspan dy="2.4">C / 2 hours</tspan></text>
<text x="123.90" y="319.06" font-size="8" text-anchor="start" font-weight="normal" fill="#1a1a1a" stroke="#1a1a1a" stroke-width="0.2" textLength="54.20" lengthAdjust="spacingAndGlyphs">Calu3 or Caco2</text>
<text x="225.80" y="280.86" font-size="8" text-anchor="start" font-weight="normal" fill="#1a1a1a" stroke="#1a1a1a" stroke-width="0.2" textLength="66.20" lengthAdjust="spacingAndGlyphs">Sample harvest for</text>
<text x="218.40" y="290.16" font-size="8" text-anchor="start" font-weight="normal" fill="#1a1a1a" stroke="#1a1a1a" stroke-width="0.2" textLength="83.00" lengthAdjust="spacingAndGlyphs">attachment assessment</text>
<path d="M146.90,289.50 C147.12,287.85 147.12,286.37 148.00,285.20 C148.88,284.03 150.57,283.15 152.20,282.50 C153.83,281.85 156.05,281.45 157.80,281.30 C159.55,281.15 161.43,281.15 162.70,281.60 C163.97,282.05 165.00,282.68 165.40,284.00 C165.80,285.32 165.87,287.97 165.10,289.50 C164.33,291.03 162.73,292.07 160.80,293.20 C158.87,294.33 155.53,295.57 153.50,296.30 C151.47,297.03 149.73,297.80 148.60,297.60 C147.47,297.40 146.98,296.45 146.70,295.10 C146.42,293.75 146.68,291.15 146.90,289.50 Z" fill="#fcc894" stroke="#25c84a" stroke-width="1.3"/>
<ellipse cx="156.8" cy="288.6" rx="5.3" ry="3.2" transform="rotate(-20 156.8 288.6)" fill="#0a0af0" stroke="#30306a" stroke-width="0.4"/>
<path d="M136.30,285.20 C136.55,283.87 136.88,283.12 137.80,282.20 C138.72,281.28 140.77,280.63 141.80,279.70 C142.83,278.77 143.08,277.32 144.00,276.60 C144.92,275.88 145.93,275.38 147.30,275.40 C148.67,275.42 151.07,275.98 152.20,276.70 C153.33,277.42 153.98,278.38 154.10,279.70 C154.22,281.02 154.13,283.27 152.90,284.60 C151.67,285.93 148.13,286.67 146.70,287.70 C145.27,288.73 145.63,290.08 144.30,290.80 C142.97,291.52 140.03,292.10 138.70,292.00 C137.37,291.90 136.70,291.33 136.30,290.20 C135.90,289.07 136.05,286.53 136.30,285.20 Z" fill="#fcc894" stroke="#25c84a" stroke-width="1.3"/>
<ellipse cx="146.7" cy="283.4" rx="5.3" ry="3.1" transform="rotate(-15 146.7 283.4)" fill="#0a0af0" stroke="#30306a" stroke-width="0.4"/>
<path d="M157.80,272.40 C158.52,271.63 159.58,270.12 160.80,269.60 C162.02,269.08 163.77,268.95 165.10,269.30 C166.43,269.65 168.03,270.58 168.80,271.70 C169.57,272.82 169.90,274.57 169.70,276.00 C169.50,277.43 168.67,279.37 167.60,280.30 C166.53,281.23 164.93,281.48 163.30,281.60 C161.67,281.72 159.18,281.42 157.80,281.00 C156.42,280.58 155.52,279.93 155.00,279.10 C154.48,278.27 154.45,276.82 154.70,276.00 C154.95,275.18 155.98,274.80 156.50,274.20 C157.02,273.60 157.08,273.17 157.80,272.40 Z" fill="#fcc894" stroke="#25c84a" stroke-width="1.3"/>
<ellipse cx="161.4" cy="276.7" rx="5.4" ry="3.1" transform="rotate(-20 161.4 276.7)" fill="#0a0af0" stroke="#30306a" stroke-width="0.4"/>
<text x="396.50" y="203.49" font-size="9.2" text-anchor="start" font-weight="normal" fill="#1a1a1a" stroke="#1a1a1a" stroke-width="0.2" textLength="72.20" lengthAdjust="spacingAndGlyphs">Calu3 attachment</text>
<text x="559.70" y="202.99" font-size="9.2" text-anchor="start" font-weight="normal" fill="#1a1a1a" stroke="#1a1a1a" stroke-width="0.2" textLength="74.60" lengthAdjust="spacingAndGlyphs">Caco2 attachment</text>
<text x="346.10" y="264.50" font-size="9.2" text-anchor="middle" fill="#1a1a1a" stroke="#1a1a1a" stroke-width="0.2" transform="rotate(-90 346.10 264.50)" textLength="77.50" lengthAdjust="spacingAndGlyphs">Virus genome copy</text>
<text x="511.30" y="264.10" font-size="9.2" text-anchor="middle" fill="#1a1a1a" stroke="#1a1a1a" stroke-width="0.2" transform="rotate(-90 511.30 264.10)" textLength="76.20" lengthAdjust="spacingAndGlyphs">Virus genome copy</text>
<text x="389.90" y="340.89" font-size="9.2" text-anchor="start" font-weight="normal" fill="#1a1a1a" stroke="#1a1a1a" stroke-width="0.2" textLength="99.10" lengthAdjust="spacingAndGlyphs">Heparan sulfate (µg/mL)</text>
<text x="561.50" y="341.49" font-size="9.2" text-anchor="start" font-weight="normal" fill="#1a1a1a" stroke="#1a1a1a" stroke-width="0.2" textLength="98.50" lengthAdjust="spacingAndGlyphs">Heparan sulfate (µg/mL)</text>
<rect x="387.30" y="240.30" width="12.00" height="76.50" fill="#ff8f95" stroke="#ff6b74" stroke-width="1.1"/>
<rect x="405.70" y="276.30" width="11.50" height="40.50" fill="#ff8f95" stroke="#ff6b74" stroke-width="1.1"/>
<line x1="393.30" y1="232.00" x2="393.30" y2="248.20" stroke="#ff7f88" stroke-width="1.0"/>
<line x1="390.10" y1="232.00" x2="396.50" y2="232.00" stroke="#ff7f88" stroke-width="1.0"/>
<line x1="390.10" y1="248.20" x2="396.50" y2="248.20" stroke="#ff7f88" stroke-width="1.0"/>
<path d="M390.40,235.31 L393.39,230.53 L387.41,230.53Z" fill="#fff" stroke="#ff5f6a" stroke-width="1.0"/>
<circle cx="395.80" cy="238.20" r="2.30" fill="#fff" stroke="#ff5f6a" stroke-width="1.0"/>
<path d="M393.20,250.81 L396.19,246.03 L390.21,246.03Z" fill="#fff" stroke="#ff5f6a" stroke-width="1.0"/>
<line x1="411.45" y1="269.10" x2="411.45" y2="280.70" stroke="#ff7f88" stroke-width="1.0"/>
<line x1="408.25" y1="269.10" x2="414.65" y2="269.10" stroke="#ff7f88" stroke-width="1.0"/>
<line x1="408.25" y1="280.70" x2="414.65" y2="280.70" stroke="#ff7f88" stroke-width="1.0"/>
<path d="M411.60,266.49 L414.59,271.27 L408.61,271.27Z" fill="#fff" stroke="#ff5f6a" stroke-width="1.0"/>
<circle cx="408.50" cy="280.40" r="2.30" fill="#fff" stroke="#ff5f6a" stroke-width="1.0"/>
<circle cx="414.10" cy="279.50" r="2.30" fill="#fff" stroke="#ff5f6a" stroke-width="1.0"/>
<path d="M381.50,223.50 H384.10 V316.80 H418.00" fill="none" stroke="#262626" stroke-width="1.1"/>
<line x1="381.50" y1="254.60" x2="384.10" y2="254.60" stroke="#262626" stroke-width="1.0"/>
<line x1="381.50" y1="285.70" x2="384.10" y2="285.70" stroke="#262626" stroke-width="1.0"/>
<line x1="381.50" y1="316.80" x2="384.10" y2="316.80" stroke="#262626" stroke-width="1.0"/>
<text x="380.60" y="223.60" font-size="4.9" text-anchor="end" font-weight="normal" fill="#1a1a1a" stroke="#1a1a1a" stroke-width="0.2">7</text>
<text x="377.28" y="226.35" font-size="8.0" text-anchor="end" font-weight="normal" fill="#1a1a1a" stroke="#1a1a1a" stroke-width="0.2">6×10</text>
<text x="380.60" y="254.70" font-size="4.9" text-anchor="end" font-weight="normal" fill="#1a1a1a" stroke="#1a1a1a" stroke-width="0.2">7</text>
<text x="377.28" y="257.45" font-size="8.0" text-anchor="end" font-weight="normal" fill="#1a1a1a" stroke="#1a1a1a" stroke-width="0.2">4×10</text>
<text x="380.60" y="285.80" font-size="4.9" text-anchor="end" font-weight="normal" fill="#1a1a1a" stroke="#1a1a1a" stroke-width="0.2">7</text>
<text x="377.28" y="288.55" font-size="8.0" text-anchor="end" font-weight="normal" fill="#1a1a1a" stroke="#1a1a1a" stroke-width="0.2">2×10</text>
<text x="380.90" y="319.65" font-size="8.0" text-anchor="end" font-weight="normal" fill="#1a1a1a" stroke="#1a1a1a" stroke-width="0.2">0</text>
<line x1="393.00" y1="316.80" x2="393.00" y2="319.40" stroke="#262626" stroke-width="1.0"/>
<text x="393.00" y="327.30" font-size="7.8" text-anchor="middle" font-weight="normal" fill="#1a1a1a" stroke="#1a1a1a" stroke-width="0.2">0</text>
<line x1="411.50" y1="316.80" x2="411.50" y2="319.40" stroke="#262626" stroke-width="1.0"/>
<text x="411.50" y="327.30" font-size="7.8" text-anchor="middle" font-weight="normal" fill="#1a1a1a" stroke="#1a1a1a" stroke-width="0.2">500</text>
<path d="M393.30,228.70 V225.30 H411.40 V228.70" fill="none" stroke="#333" stroke-width="1"/>
<text x="382.70" y="222.06" font-size="8.0" text-anchor="start" font-weight="normal" fill="#1a1a1a" stroke="#1a1a1a" stroke-width="0.2" textLength="38.40" lengthAdjust="spacingAndGlyphs">**p=0.0032</text>
<rect x="458.50" y="243.50" width="11.80" height="73.30" fill="#9cc9ff" stroke="#6a9cff" stroke-width="1.1"/>
<rect x="476.60" y="263.20" width="12.10" height="53.60" fill="#9cc9ff" stroke="#6a9cff" stroke-width="1.1"/>
<line x1="464.40" y1="237.10" x2="464.40" y2="248.20" stroke="#7ea6ff" stroke-width="1.0"/>
<line x1="461.20" y1="237.10" x2="467.60" y2="237.10" stroke="#7ea6ff" stroke-width="1.0"/>
<line x1="461.20" y1="248.20" x2="467.60" y2="248.20" stroke="#7ea6ff" stroke-width="1.0"/>
<path d="M464.40,240.81 L467.39,236.03 L461.41,236.03Z" fill="#fff" stroke="#5c8fff" stroke-width="1.0"/>
<rect x="459.13" y="243.83" width="4.14" height="4.14" fill="#fff" stroke="#5c8fff" stroke-width="1.0"/>
<rect x="465.73" y="242.73" width="4.14" height="4.14" fill="#fff" stroke="#5c8fff" stroke-width="1.0"/>
<line x1="482.65" y1="252.10" x2="482.65" y2="271.90" stroke="#7ea6ff" stroke-width="1.0"/>
<line x1="479.45" y1="252.10" x2="485.85" y2="252.10" stroke="#7ea6ff" stroke-width="1.0"/>
<line x1="479.45" y1="271.90" x2="485.85" y2="271.90" stroke="#7ea6ff" stroke-width="1.0"/>
<rect x="480.93" y="250.83" width="4.14" height="4.14" fill="#fff" stroke="#5c8fff" stroke-width="1.0"/>
<rect x="483.53" y="264.73" width="4.14" height="4.14" fill="#fff" stroke="#5c8fff" stroke-width="1.0"/>
<rect x="478.13" y="268.63" width="4.14" height="4.14" fill="#fff" stroke="#5c8fff" stroke-width="1.0"/>
<path d="M453.00,223.50 H455.60 V316.80 H489.00" fill="none" stroke="#262626" stroke-width="1.1"/>
<line x1="453.00" y1="246.82" x2="455.60" y2="246.82" stroke="#262626" stroke-width="1.0"/>
<line x1="453.00" y1="270.15" x2="455.60" y2="270.15" stroke="#262626" stroke-width="1.0"/>
<line x1="453.00" y1="293.48" x2="455.60" y2="293.48" stroke="#262626" stroke-width="1.0"/>
<line x1="453.00" y1="316.80" x2="455.60" y2="316.80" stroke="#262626" stroke-width="1.0"/>
<text x="452.10" y="223.60" font-size="4.9" text-anchor="end" font-weight="normal" fill="#1a1a1a" stroke="#1a1a1a" stroke-width="0.2">7</text>
<text x="448.78" y="226.35" font-size="8.0" text-anchor="end" font-weight="normal" fill="#1a1a1a" stroke="#1a1a1a" stroke-width="0.2">4×10</text>
<text x="452.10" y="246.92" font-size="4.9" text-anchor="end" font-weight="normal" fill="#1a1a1a" stroke="#1a1a1a" stroke-width="0.2">7</text>
<text x="448.78" y="249.67" font-size="8.0" text-anchor="end" font-weight="normal" fill="#1a1a1a" stroke="#1a1a1a" stroke-width="0.2">3×10</text>
<text x="452.10" y="270.25" font-size="4.9" text-anchor="end" font-weight="normal" fill="#1a1a1a" stroke="#1a1a1a" stroke-width="0.2">7</text>
<text x="448.78" y="273.00" font-size="8.0" text-anchor="end" font-weight="normal" fill="#1a1a1a" stroke="#1a1a1a" stroke-width="0.2">2×10</text>
<text x="452.10" y="293.58" font-size="4.9" text-anchor="end" font-weight="normal" fill="#1a1a1a" stroke="#1a1a1a" stroke-width="0.2">7</text>
<text x="448.78" y="296.33" font-size="8.0" text-anchor="end" font-weight="normal" fill="#1a1a1a" stroke="#1a1a1a" stroke-width="0.2">1×10</text>
<text x="452.40" y="319.65" font-size="8.0" text-anchor="end" font-weight="normal" fill="#1a1a1a" stroke="#1a1a1a" stroke-width="0.2">0</text>
<line x1="464.50" y1="316.80" x2="464.50" y2="319.40" stroke="#262626" stroke-width="1.0"/>
<text x="464.50" y="327.30" font-size="7.8" text-anchor="middle" font-weight="normal" fill="#1a1a1a" stroke="#1a1a1a" stroke-width="0.2">0</text>
<line x1="482.40" y1="316.80" x2="482.40" y2="319.40" stroke="#262626" stroke-width="1.0"/>
<text x="482.40" y="327.30" font-size="7.8" text-anchor="middle" font-weight="normal" fill="#1a1a1a" stroke="#1a1a1a" stroke-width="0.2">500</text>
<path d="M464.50,229.40 V226.00 H482.10 V229.40" fill="none" stroke="#333" stroke-width="1"/>
<text x="456.40" y="222.86" font-size="8.0" text-anchor="start" font-weight="normal" fill="#1a1a1a" stroke="#1a1a1a" stroke-width="0.2" textLength="35.20" lengthAdjust="spacingAndGlyphs">*p=0.0274</text>
<rect x="554.70" y="251.70" width="11.70" height="65.10" fill="#ff8f95" stroke="#ff6b74" stroke-width="1.1"/>
<rect x="572.80" y="287.40" width="12.00" height="29.40" fill="#ff8f95" stroke="#ff6b74" stroke-width="1.1"/>
<line x1="560.55" y1="235.60" x2="560.55" y2="265.80" stroke="#ff7f88" stroke-width="1.0"/>
<line x1="557.35" y1="235.60" x2="563.75" y2="235.60" stroke="#ff7f88" stroke-width="1.0"/>
<line x1="557.35" y1="265.80" x2="563.75" y2="265.80" stroke="#ff7f88" stroke-width="1.0"/>
<path d="M560.80,233.79 L563.79,238.57 L557.81,238.57Z" fill="#fff" stroke="#ff5f6a" stroke-width="1.0"/>
<circle cx="560.80" cy="255.70" r="2.30" fill="#fff" stroke="#ff5f6a" stroke-width="1.0"/>
<circle cx="560.80" cy="264.20" r="2.30" fill="#fff" stroke="#ff5f6a" stroke-width="1.0"/>
<line x1="578.80" y1="285.10" x2="578.80" y2="292.00" stroke="#ff7f88" stroke-width="1.0"/>
<line x1="575.60" y1="285.10" x2="582.00" y2="285.10" stroke="#ff7f88" stroke-width="1.0"/>
<line x1="575.60" y1="292.00" x2="582.00" y2="292.00" stroke="#ff7f88" stroke-width="1.0"/>
<circle cx="576.30" cy="285.50" r="2.30" fill="#fff" stroke="#ff5f6a" stroke-width="1.0"/>
<circle cx="581.70" cy="285.50" r="2.30" fill="#fff" stroke="#ff5f6a" stroke-width="1.0"/>
<path d="M578.80,293.81 L581.79,289.03 L575.81,289.03Z" fill="#fff" stroke="#ff5f6a" stroke-width="1.0"/>
<path d="M549.20,223.50 H551.80 V316.80 H585.10" fill="none" stroke="#262626" stroke-width="1.1"/>
<line x1="549.20" y1="242.16" x2="551.80" y2="242.16" stroke="#262626" stroke-width="1.0"/>
<line x1="549.20" y1="260.82" x2="551.80" y2="260.82" stroke="#262626" stroke-width="1.0"/>
<line x1="549.20" y1="279.48" x2="551.80" y2="279.48" stroke="#262626" stroke-width="1.0"/>
<line x1="549.20" y1="298.14" x2="551.80" y2="298.14" stroke="#262626" stroke-width="1.0"/>
<line x1="549.20" y1="316.80" x2="551.80" y2="316.80" stroke="#262626" stroke-width="1.0"/>
<text x="548.30" y="223.60" font-size="4.9" text-anchor="end" font-weight="normal" fill="#1a1a1a" stroke="#1a1a1a" stroke-width="0.2">7</text>
<text x="544.98" y="226.35" font-size="8.0" text-anchor="end" font-weight="normal" fill="#1a1a1a" stroke="#1a1a1a" stroke-width="0.2">2.5×10</text>
<text x="548.30" y="242.26" font-size="4.9" text-anchor="end" font-weight="normal" fill="#1a1a1a" stroke="#1a1a1a" stroke-width="0.2">7</text>
<text x="544.98" y="245.01" font-size="8.0" text-anchor="end" font-weight="normal" fill="#1a1a1a" stroke="#1a1a1a" stroke-width="0.2">2.0×10</text>
<text x="548.30" y="260.92" font-size="4.9" text-anchor="end" font-weight="normal" fill="#1a1a1a" stroke="#1a1a1a" stroke-width="0.2">7</text>
<text x="544.98" y="263.67" font-size="8.0" text-anchor="end" font-weight="normal" fill="#1a1a1a" stroke="#1a1a1a" stroke-width="0.2">1.5×10</text>
<text x="548.30" y="279.58" font-size="4.9" text-anchor="end" font-weight="normal" fill="#1a1a1a" stroke="#1a1a1a" stroke-width="0.2">7</text>
<text x="544.98" y="282.33" font-size="8.0" text-anchor="end" font-weight="normal" fill="#1a1a1a" stroke="#1a1a1a" stroke-width="0.2">1.0×10</text>
<text x="548.30" y="298.24" font-size="4.9" text-anchor="end" font-weight="normal" fill="#1a1a1a" stroke="#1a1a1a" stroke-width="0.2">6</text>
<text x="544.98" y="300.99" font-size="8.0" text-anchor="end" font-weight="normal" fill="#1a1a1a" stroke="#1a1a1a" stroke-width="0.2">5.0×10</text>
<text x="548.60" y="319.65" font-size="8.0" text-anchor="end" font-weight="normal" fill="#1a1a1a" stroke="#1a1a1a" stroke-width="0.2">0.0</text>
<line x1="560.20" y1="316.80" x2="560.20" y2="319.40" stroke="#262626" stroke-width="1.0"/>
<text x="560.20" y="327.30" font-size="7.8" text-anchor="middle" font-weight="normal" fill="#1a1a1a" stroke="#1a1a1a" stroke-width="0.2">0</text>
<line x1="578.60" y1="316.80" x2="578.60" y2="319.40" stroke="#262626" stroke-width="1.0"/>
<text x="578.60" y="327.30" font-size="7.8" text-anchor="middle" font-weight="normal" fill="#1a1a1a" stroke="#1a1a1a" stroke-width="0.2">500</text>
<path d="M560.20,228.60 V225.20 H578.60 V228.60" fill="none" stroke="#333" stroke-width="1"/>
<text x="552.30" y="222.26" font-size="8.0" text-anchor="start" font-weight="normal" fill="#1a1a1a" stroke="#1a1a1a" stroke-width="0.2" textLength="36.30" lengthAdjust="spacingAndGlyphs">*p=0.0136</text>
<rect x="629.40" y="269.50" width="11.90" height="47.30" fill="#9cc9ff" stroke="#6a9cff" stroke-width="1.1"/>
<rect x="647.70" y="296.60" width="12.00" height="20.20" fill="#9cc9ff" stroke="#6a9cff" stroke-width="1.1"/>
<line x1="635.35" y1="255.20" x2="635.35" y2="281.40" stroke="#7ea6ff" stroke-width="1.0"/>
<line x1="632.15" y1="255.20" x2="638.55" y2="255.20" stroke="#7ea6ff" stroke-width="1.0"/>
<line x1="632.15" y1="281.40" x2="638.55" y2="281.40" stroke="#7ea6ff" stroke-width="1.0"/>
<rect x="633.53" y="253.13" width="4.14" height="4.14" fill="#fff" stroke="#5c8fff" stroke-width="1.0"/>
<rect x="630.13" y="275.23" width="4.14" height="4.14" fill="#fff" stroke="#5c8fff" stroke-width="1.0"/>
<rect x="636.33" y="273.93" width="4.14" height="4.14" fill="#fff" stroke="#5c8fff" stroke-width="1.0"/>
<line x1="653.70" y1="284.60" x2="653.70" y2="305.90" stroke="#7ea6ff" stroke-width="1.0"/>
<line x1="650.50" y1="284.60" x2="656.90" y2="284.60" stroke="#7ea6ff" stroke-width="1.0"/>
<line x1="650.50" y1="305.90" x2="656.90" y2="305.90" stroke="#7ea6ff" stroke-width="1.0"/>
<rect x="651.53" y="283.03" width="4.14" height="4.14" fill="#fff" stroke="#5c8fff" stroke-width="1.0"/>
<rect x="648.63" y="301.03" width="4.14" height="4.14" fill="#fff" stroke="#5c8fff" stroke-width="1.0"/>
<rect x="654.83" y="300.03" width="4.14" height="4.14" fill="#fff" stroke="#5c8fff" stroke-width="1.0"/>
<path d="M623.80,223.50 H626.40 V316.80 H662.10" fill="none" stroke="#262626" stroke-width="1.1"/>
<line x1="623.80" y1="254.60" x2="626.40" y2="254.60" stroke="#262626" stroke-width="1.0"/>
<line x1="623.80" y1="285.70" x2="626.40" y2="285.70" stroke="#262626" stroke-width="1.0"/>
<line x1="623.80" y1="316.80" x2="626.40" y2="316.80" stroke="#262626" stroke-width="1.0"/>
<text x="622.90" y="223.60" font-size="4.9" text-anchor="end" font-weight="normal" fill="#1a1a1a" stroke="#1a1a1a" stroke-width="0.2">8</text>
<text x="619.58" y="226.35" font-size="8.0" text-anchor="end" font-weight="normal" fill="#1a1a1a" stroke="#1a1a1a" stroke-width="0.2">1.5×10</text>
<text x="622.90" y="254.70" font-size="4.9" text-anchor="end" font-weight="normal" fill="#1a1a1a" stroke="#1a1a1a" stroke-width="0.2">8</text>
<text x="619.58" y="257.45" font-size="8.0" text-anchor="end" font-weight="normal" fill="#1a1a1a" stroke="#1a1a1a" stroke-width="0.2">1.0×10</text>
<text x="622.90" y="285.80" font-size="4.9" text-anchor="end" font-weight="normal" fill="#1a1a1a" stroke="#1a1a1a" stroke-width="0.2">7</text>
<text x="619.58" y="288.55" font-size="8.0" text-anchor="end" font-weight="normal" fill="#1a1a1a" stroke="#1a1a1a" stroke-width="0.2">5.0×10</text>
<text x="623.20" y="319.65" font-size="8.0" text-anchor="end" font-weight="normal" fill="#1a1a1a" stroke="#1a1a1a" stroke-width="0.2">0.0</text>
<line x1="635.60" y1="316.80" x2="635.60" y2="319.40" stroke="#262626" stroke-width="1.0"/>
<text x="635.60" y="327.30" font-size="7.8" text-anchor="middle" font-weight="normal" fill="#1a1a1a" stroke="#1a1a1a" stroke-width="0.2">0</text>
<line x1="653.40" y1="316.80" x2="653.40" y2="319.40" stroke="#262626" stroke-width="1.0"/>
<text x="653.40" y="327.30" font-size="7.8" text-anchor="middle" font-weight="normal" fill="#1a1a1a" stroke="#1a1a1a" stroke-width="0.2">500</text>
<path d="M635.30,248.00 V244.60 H653.90 V248.00" fill="none" stroke="#333" stroke-width="1"/>
<text x="628.00" y="241.66" font-size="8.0" text-anchor="start" font-weight="normal" fill="#1a1a1a" stroke="#1a1a1a" stroke-width="0.2" textLength="34.70" lengthAdjust="spacingAndGlyphs">*p=0.0424</text>
<text x="87.70" y="367.39" font-size="9.2" text-anchor="start" font-weight="normal" fill="#1a1a1a" stroke="#1a1a1a" stroke-width="0.2" textLength="66.60" lengthAdjust="spacingAndGlyphs">Calu3 cell lysate</text>
<text x="304.60" y="367.39" font-size="9.2" text-anchor="start" font-weight="normal" fill="#1a1a1a" stroke="#1a1a1a" stroke-width="0.2" textLength="75.40" lengthAdjust="spacingAndGlyphs">Calu3 supernatant</text>
<text x="13.80" y="451.20" font-size="9.2" text-anchor="middle" fill="#1a1a1a" stroke="#1a1a1a" stroke-width="0.2" transform="rotate(-90 13.80 451.20)" textLength="77.60" lengthAdjust="spacingAndGlyphs">Virus genome copy</text>
<text x="227.00" y="451.20" font-size="9.2" text-anchor="middle" fill="#1a1a1a" stroke="#1a1a1a" stroke-width="0.2" transform="rotate(-90 227.00 451.20)" textLength="95.50" lengthAdjust="spacingAndGlyphs">Virus genome copy /mL</text>
<text x="97.80" y="524.39" font-size="9.2" text-anchor="start" font-weight="normal" fill="#1a1a1a" stroke="#1a1a1a" stroke-width="0.2" textLength="46.60" lengthAdjust="spacingAndGlyphs">Heparinase</text>
<text x="319.50" y="524.39" font-size="9.2" text-anchor="start" font-weight="normal" fill="#1a1a1a" stroke="#1a1a1a" stroke-width="0.2" textLength="46.30" lengthAdjust="spacingAndGlyphs">Heparinase</text>
<text x="194.30" y="528.73" font-size="7.9" text-anchor="start" font-weight="bold" fill="#ff5f6a" stroke="#ff5f6a" stroke-width="0.1" textLength="46.30" lengthAdjust="spacingAndGlyphs">SARS-CoV-2</text>
<text x="194.30" y="541.23" font-size="7.9" text-anchor="start" font-weight="bold" fill="#5c8fff" stroke="#5c8fff" stroke-width="0.1" textLength="39.70" lengthAdjust="spacingAndGlyphs">SARS-CoV</text>
<rect x="245.50" y="522.80" width="9.90" height="6.2" fill="none" stroke="#ff7f88" stroke-width="1"/>
<rect x="245.50" y="535.30" width="9.90" height="6.2" fill="none" stroke="#7ea6ff" stroke-width="1"/>
<rect x="53.15" y="430.90" width="10.10" height="66.50" fill="none" stroke="#ff7f88" stroke-width="1.2"/>
<rect x="68.35" y="463.50" width="10.70" height="33.90" fill="none" stroke="#ff7f88" stroke-width="1.2"/>
<rect x="84.15" y="448.70" width="10.40" height="48.70" fill="none" stroke="#ff7f88" stroke-width="1.2"/>
<rect x="99.35" y="477.40" width="10.40" height="20.00" fill="none" stroke="#ff7f88" stroke-width="1.2"/>
<line x1="58.20" y1="419.30" x2="58.20" y2="443.40" stroke="#ff7f88" stroke-width="1.0"/>
<line x1="55.00" y1="419.30" x2="61.40" y2="419.30" stroke="#ff7f88" stroke-width="1.0"/>
<line x1="55.00" y1="443.40" x2="61.40" y2="443.40" stroke="#ff7f88" stroke-width="1.0"/>
<circle cx="55.60" cy="421.90" r="2.00" fill="#ff5f6a"/>
<circle cx="61.10" cy="427.10" r="2.00" fill="#ff5f6a"/>
<path d="M58.40,445.90 L61.00,441.71 L55.80,441.71Z" fill="#ff5f6a"/>
<line x1="73.70" y1="459.60" x2="73.70" y2="465.50" stroke="#ff7f88" stroke-width="1.0"/>
<line x1="70.50" y1="459.60" x2="76.90" y2="459.60" stroke="#ff7f88" stroke-width="1.0"/>
<line x1="70.50" y1="465.50" x2="76.90" y2="465.50" stroke="#ff7f88" stroke-width="1.0"/>
<circle cx="73.80" cy="459.60" r="2.00" fill="#ff5f6a"/>
<circle cx="76.40" cy="462.20" r="2.00" fill="#ff5f6a"/>
<circle cx="71.20" cy="466.10" r="2.00" fill="#ff5f6a"/>
<line x1="89.35" y1="441.40" x2="89.35" y2="455.10" stroke="#ff7f88" stroke-width="1.0"/>
<line x1="86.15" y1="441.40" x2="92.55" y2="441.40" stroke="#ff7f88" stroke-width="1.0"/>
<line x1="86.15" y1="455.10" x2="92.55" y2="455.10" stroke="#ff7f88" stroke-width="1.0"/>
<circle cx="89.40" cy="441.40" r="2.00" fill="#ff5f6a"/>
<circle cx="89.40" cy="449.20" r="2.00" fill="#ff5f6a"/>
<path d="M89.40,452.10 L92.00,456.29 L86.80,456.29Z" fill="#ff5f6a"/>
<line x1="104.55" y1="470.70" x2="104.55" y2="484.30" stroke="#ff7f88" stroke-width="1.0"/>
<line x1="101.35" y1="470.70" x2="107.75" y2="470.70" stroke="#ff7f88" stroke-width="1.0"/>
<line x1="101.35" y1="484.30" x2="107.75" y2="484.30" stroke="#ff7f88" stroke-width="1.0"/>
<circle cx="102.10" cy="470.70" r="2.00" fill="#ff5f6a"/>
<circle cx="107.20" cy="476.30" r="2.00" fill="#ff5f6a"/>
<path d="M104.30,486.60 L106.90,482.41 L101.70,482.41Z" fill="#ff5f6a"/>
<path d="M47.90,404.50 H50.50 V497.40 H111.80" fill="none" stroke="#262626" stroke-width="1.1"/>
<line x1="47.90" y1="427.73" x2="50.50" y2="427.73" stroke="#262626" stroke-width="1.0"/>
<line x1="47.90" y1="450.95" x2="50.50" y2="450.95" stroke="#262626" stroke-width="1.0"/>
<line x1="47.90" y1="474.17" x2="50.50" y2="474.17" stroke="#262626" stroke-width="1.0"/>
<line x1="47.90" y1="497.40" x2="50.50" y2="497.40" stroke="#262626" stroke-width="1.0"/>
<text x="47.00" y="404.60" font-size="4.9" text-anchor="end" font-weight="normal" fill="#1a1a1a" stroke="#1a1a1a" stroke-width="0.2">8</text>
<text x="43.68" y="407.35" font-size="8.0" text-anchor="end" font-weight="normal" fill="#1a1a1a" stroke="#1a1a1a" stroke-width="0.2">4×10</text>
<text x="47.00" y="427.83" font-size="4.9" text-anchor="end" font-weight="normal" fill="#1a1a1a" stroke="#1a1a1a" stroke-width="0.2">8</text>
<text x="43.68" y="430.58" font-size="8.0" text-anchor="end" font-weight="normal" fill="#1a1a1a" stroke="#1a1a1a" stroke-width="0.2">3×10</text>
<text x="47.00" y="451.05" font-size="4.9" text-anchor="end" font-weight="normal" fill="#1a1a1a" stroke="#1a1a1a" stroke-width="0.2">8</text>
<text x="43.68" y="453.80" font-size="8.0" text-anchor="end" font-weight="normal" fill="#1a1a1a" stroke="#1a1a1a" stroke-width="0.2">2×10</text>
<text x="47.00" y="474.27" font-size="4.9" text-anchor="end" font-weight="normal" fill="#1a1a1a" stroke="#1a1a1a" stroke-width="0.2">8</text>
<text x="43.68" y="477.02" font-size="8.0" text-anchor="end" font-weight="normal" fill="#1a1a1a" stroke="#1a1a1a" stroke-width="0.2">1×10</text>
<text x="47.30" y="500.25" font-size="8.0" text-anchor="end" font-weight="normal" fill="#1a1a1a" stroke="#1a1a1a" stroke-width="0.2">0</text>
<line x1="58.40" y1="497.40" x2="58.40" y2="500.00" stroke="#262626" stroke-width="1.0"/>
<text x="58.40" y="507.90" font-size="7.8" text-anchor="middle" font-weight="normal" fill="#1a1a1a" stroke="#1a1a1a" stroke-width="0.2">M</text>
<line x1="73.70" y1="497.40" x2="73.70" y2="500.00" stroke="#262626" stroke-width="1.0"/>
<text x="73.70" y="507.90" font-size="7.8" text-anchor="middle" font-weight="normal" fill="#1a1a1a" stroke="#1a1a1a" stroke-width="0.2">I</text>
<line x1="88.90" y1="497.40" x2="88.90" y2="500.00" stroke="#262626" stroke-width="1.0"/>
<text x="88.90" y="507.90" font-size="7.8" text-anchor="middle" font-weight="normal" fill="#1a1a1a" stroke="#1a1a1a" stroke-width="0.2">III</text>
<line x1="104.70" y1="497.40" x2="104.70" y2="500.00" stroke="#262626" stroke-width="1.0"/>
<text x="104.70" y="507.90" font-size="7.8" text-anchor="middle" font-weight="normal" fill="#1a1a1a" stroke="#1a1a1a" stroke-width="0.2">I+III</text>
<path d="M58.40,408.70 V405.30 H74.50 V408.70" fill="none" stroke="#333" stroke-width="1"/>
<text x="46.50" y="402.56" font-size="8.0" text-anchor="start" font-weight="normal" fill="#1a1a1a" stroke="#1a1a1a" stroke-width="0.2" textLength="39.10" lengthAdjust="spacingAndGlyphs">**p=0.0040</text>
<path d="M58.40,396.30 V392.90 H90.70 V396.30" fill="none" stroke="#333" stroke-width="1"/>
<text x="52.80" y="390.16" font-size="8.0" text-anchor="start" font-weight="normal" fill="#1a1a1a" stroke="#1a1a1a" stroke-width="0.2" textLength="43.20" lengthAdjust="spacingAndGlyphs">ns;p=0.0654</text>
<path d="M58.40,382.00 V378.60 H106.20 V382.00" fill="none" stroke="#333" stroke-width="1"/>
<text x="61.80" y="375.86" font-size="8.0" text-anchor="start" font-weight="normal" fill="#1a1a1a" stroke="#1a1a1a" stroke-width="0.2" textLength="41.40" lengthAdjust="spacingAndGlyphs">***p=0.0004</text>
<rect x="144.25" y="428.90" width="10.20" height="68.50" fill="none" stroke="#7ea6ff" stroke-width="1.2"/>
<rect x="159.85" y="463.20" width="9.90" height="34.20" fill="none" stroke="#7ea6ff" stroke-width="1.2"/>
<rect x="175.25" y="443.30" width="10.20" height="54.10" fill="none" stroke="#7ea6ff" stroke-width="1.2"/>
<rect x="190.15" y="464.40" width="10.20" height="33.00" fill="none" stroke="#7ea6ff" stroke-width="1.2"/>
<line x1="149.35" y1="417.40" x2="149.35" y2="439.10" stroke="#7ea6ff" stroke-width="1.0"/>
<line x1="146.15" y1="417.40" x2="152.55" y2="417.40" stroke="#7ea6ff" stroke-width="1.0"/>
<line x1="146.15" y1="439.10" x2="152.55" y2="439.10" stroke="#7ea6ff" stroke-width="1.0"/>
<rect x="147.60" y="414.90" width="3.60" height="3.60" fill="#5c8fff"/>
<rect x="150.00" y="430.90" width="3.60" height="3.60" fill="#5c8fff"/>
<rect x="144.80" y="434.40" width="3.60" height="3.60" fill="#5c8fff"/>
<line x1="164.80" y1="458.30" x2="164.80" y2="467.40" stroke="#7ea6ff" stroke-width="1.0"/>
<line x1="161.60" y1="458.30" x2="168.00" y2="458.30" stroke="#7ea6ff" stroke-width="1.0"/>
<line x1="161.60" y1="467.40" x2="168.00" y2="467.40" stroke="#7ea6ff" stroke-width="1.0"/>
<rect x="163.00" y="456.50" width="3.60" height="3.60" fill="#5c8fff"/>
<rect x="165.60" y="460.40" width="3.60" height="3.60" fill="#5c8fff"/>
<rect x="160.40" y="466.30" width="3.60" height="3.60" fill="#5c8fff"/>
<line x1="180.35" y1="428.70" x2="180.35" y2="459.60" stroke="#7ea6ff" stroke-width="1.0"/>
<line x1="177.15" y1="428.70" x2="183.55" y2="428.70" stroke="#7ea6ff" stroke-width="1.0"/>
<line x1="177.15" y1="459.60" x2="183.55" y2="459.60" stroke="#7ea6ff" stroke-width="1.0"/>
<rect x="175.60" y="431.80" width="3.60" height="3.60" fill="#5c8fff"/>
<rect x="180.80" y="434.70" width="3.60" height="3.60" fill="#5c8fff"/>
<rect x="178.20" y="459.10" width="3.60" height="3.60" fill="#5c8fff"/>
<line x1="195.25" y1="453.80" x2="195.25" y2="474.20" stroke="#7ea6ff" stroke-width="1.0"/>
<line x1="192.05" y1="453.80" x2="198.45" y2="453.80" stroke="#7ea6ff" stroke-width="1.0"/>
<line x1="192.05" y1="474.20" x2="198.45" y2="474.20" stroke="#7ea6ff" stroke-width="1.0"/>
<rect x="193.50" y="451.30" width="3.60" height="3.60" fill="#5c8fff"/>
<rect x="195.90" y="466.90" width="3.60" height="3.60" fill="#5c8fff"/>
<rect x="190.90" y="469.80" width="3.60" height="3.60" fill="#5c8fff"/>
<path d="M138.90,404.50 H141.50 V497.40 H202.30" fill="none" stroke="#262626" stroke-width="1.1"/>
<line x1="138.90" y1="423.08" x2="141.50" y2="423.08" stroke="#262626" stroke-width="1.0"/>
<line x1="138.90" y1="441.66" x2="141.50" y2="441.66" stroke="#262626" stroke-width="1.0"/>
<line x1="138.90" y1="460.24" x2="141.50" y2="460.24" stroke="#262626" stroke-width="1.0"/>
<line x1="138.90" y1="478.82" x2="141.50" y2="478.82" stroke="#262626" stroke-width="1.0"/>
<line x1="138.90" y1="497.40" x2="141.50" y2="497.40" stroke="#262626" stroke-width="1.0"/>
<text x="138.00" y="404.60" font-size="4.9" text-anchor="end" font-weight="normal" fill="#1a1a1a" stroke="#1a1a1a" stroke-width="0.2">7</text>
<text x="134.68" y="407.35" font-size="8.0" text-anchor="end" font-weight="normal" fill="#1a1a1a" stroke="#1a1a1a" stroke-width="0.2">5×10</text>
<text x="138.00" y="423.18" font-size="4.9" text-anchor="end" font-weight="normal" fill="#1a1a1a" stroke="#1a1a1a" stroke-width="0.2">7</text>
<text x="134.68" y="425.93" font-size="8.0" text-anchor="end" font-weight="normal" fill="#1a1a1a" stroke="#1a1a1a" stroke-width="0.2">4×10</text>
<text x="138.00" y="441.76" font-size="4.9" text-anchor="end" font-weight="normal" fill="#1a1a1a" stroke="#1a1a1a" stroke-width="0.2">7</text>
<text x="134.68" y="444.51" font-size="8.0" text-anchor="end" font-weight="normal" fill="#1a1a1a" stroke="#1a1a1a" stroke-width="0.2">3×10</text>
<text x="138.00" y="460.34" font-size="4.9" text-anchor="end" font-weight="normal" fill="#1a1a1a" stroke="#1a1a1a" stroke-width="0.2">7</text>
<text x="134.68" y="463.09" font-size="8.0" text-anchor="end" font-weight="normal" fill="#1a1a1a" stroke="#1a1a1a" stroke-width="0.2">2×10</text>
<text x="138.00" y="478.92" font-size="4.9" text-anchor="end" font-weight="normal" fill="#1a1a1a" stroke="#1a1a1a" stroke-width="0.2">7</text>
<text x="134.68" y="481.67" font-size="8.0" text-anchor="end" font-weight="normal" fill="#1a1a1a" stroke="#1a1a1a" stroke-width="0.2">1×10</text>
<text x="138.30" y="500.25" font-size="8.0" text-anchor="end" font-weight="normal" fill="#1a1a1a" stroke="#1a1a1a" stroke-width="0.2">0</text>
<line x1="149.20" y1="497.40" x2="149.20" y2="500.00" stroke="#262626" stroke-width="1.0"/>
<text x="149.20" y="507.90" font-size="7.8" text-anchor="middle" font-weight="normal" fill="#1a1a1a" stroke="#1a1a1a" stroke-width="0.2">M</text>
<line x1="164.60" y1="497.40" x2="164.60" y2="500.00" stroke="#262626" stroke-width="1.0"/>
<text x="164.60" y="507.90" font-size="7.8" text-anchor="middle" font-weight="normal" fill="#1a1a1a" stroke="#1a1a1a" stroke-width="0.2">I</text>
<line x1="180.20" y1="497.40" x2="180.20" y2="500.00" stroke="#262626" stroke-width="1.0"/>
<text x="180.20" y="507.90" font-size="7.8" text-anchor="middle" font-weight="normal" fill="#1a1a1a" stroke="#1a1a1a" stroke-width="0.2">III</text>
<line x1="195.10" y1="497.40" x2="195.10" y2="500.00" stroke="#262626" stroke-width="1.0"/>
<text x="195.10" y="507.90" font-size="7.8" text-anchor="middle" font-weight="normal" fill="#1a1a1a" stroke="#1a1a1a" stroke-width="0.2">I+III</text>
<path d="M149.20,407.30 V403.90 H165.10 V407.30" fill="none" stroke="#333" stroke-width="1"/>
<text x="139.80" y="401.26" font-size="8.0" text-anchor="start" font-weight="normal" fill="#1a1a1a" stroke="#1a1a1a" stroke-width="0.2" textLength="36.70" lengthAdjust="spacingAndGlyphs">*p=0.0212</text>
<path d="M149.20,395.60 V392.20 H181.20 V395.60" fill="none" stroke="#333" stroke-width="1"/>
<text x="143.50" y="388.86" font-size="8.0" text-anchor="start" font-weight="normal" fill="#1a1a1a" stroke="#1a1a1a" stroke-width="0.2" textLength="43.90" lengthAdjust="spacingAndGlyphs">ns;p=0.2266</text>
<path d="M149.20,381.20 V377.80 H196.40 V381.20" fill="none" stroke="#333" stroke-width="1"/>
<text x="154.70" y="374.76" font-size="8.0" text-anchor="start" font-weight="normal" fill="#1a1a1a" stroke="#1a1a1a" stroke-width="0.2" textLength="36.70" lengthAdjust="spacingAndGlyphs">*p=0.0203</text>
<rect x="269.75" y="435.50" width="10.40" height="61.90" fill="none" stroke="#ff7f88" stroke-width="1.2"/>
<rect x="285.25" y="464.70" width="10.20" height="32.70" fill="none" stroke="#ff7f88" stroke-width="1.2"/>
<rect x="300.95" y="457.60" width="10.20" height="39.80" fill="none" stroke="#ff7f88" stroke-width="1.2"/>
<rect x="316.25" y="480.50" width="10.20" height="16.90" fill="none" stroke="#ff7f88" stroke-width="1.2"/>
<line x1="274.95" y1="430.10" x2="274.95" y2="440.40" stroke="#ff7f88" stroke-width="1.0"/>
<line x1="271.75" y1="430.10" x2="278.15" y2="430.10" stroke="#ff7f88" stroke-width="1.0"/>
<line x1="271.75" y1="440.40" x2="278.15" y2="440.40" stroke="#ff7f88" stroke-width="1.0"/>
<path d="M274.90,432.40 L277.50,428.21 L272.30,428.21Z" fill="#ff5f6a"/>
<circle cx="277.70" cy="434.90" r="2.00" fill="#ff5f6a"/>
<circle cx="272.30" cy="440.40" r="2.00" fill="#ff5f6a"/>
<line x1="290.35" y1="458.80" x2="290.35" y2="470.10" stroke="#ff7f88" stroke-width="1.0"/>
<line x1="287.15" y1="458.80" x2="293.55" y2="458.80" stroke="#ff7f88" stroke-width="1.0"/>
<line x1="287.15" y1="470.10" x2="293.55" y2="470.10" stroke="#ff7f88" stroke-width="1.0"/>
<circle cx="287.90" cy="459.30" r="2.00" fill="#ff5f6a"/>
<circle cx="293.10" cy="462.70" r="2.00" fill="#ff5f6a"/>
<path d="M290.30,472.40 L292.90,468.21 L287.70,468.21Z" fill="#ff5f6a"/>
<line x1="306.05" y1="442.60" x2="306.05" y2="473.40" stroke="#ff7f88" stroke-width="1.0"/>
<line x1="302.85" y1="442.60" x2="309.25" y2="442.60" stroke="#ff7f88" stroke-width="1.0"/>
<line x1="302.85" y1="473.40" x2="309.25" y2="473.40" stroke="#ff7f88" stroke-width="1.0"/>
<path d="M305.80,446.00 L308.40,441.81 L303.20,441.81Z" fill="#ff5f6a"/>
<circle cx="305.80" cy="454.10" r="2.00" fill="#ff5f6a"/>
<path d="M305.80,475.40 L308.40,471.21 L303.20,471.21Z" fill="#ff5f6a"/>
<line x1="321.35" y1="468.50" x2="321.35" y2="493.80" stroke="#ff7f88" stroke-width="1.0"/>
<line x1="318.15" y1="468.50" x2="324.55" y2="468.50" stroke="#ff7f88" stroke-width="1.0"/>
<line x1="318.15" y1="493.80" x2="324.55" y2="493.80" stroke="#ff7f88" stroke-width="1.0"/>
<circle cx="318.50" cy="472.60" r="2.00" fill="#ff5f6a"/>
<circle cx="323.90" cy="474.80" r="2.00" fill="#ff5f6a"/>
<path d="M321.30,496.30 L323.90,492.11 L318.70,492.11Z" fill="#ff5f6a"/>
<path d="M264.80,404.50 H267.40 V497.40 H328.70" fill="none" stroke="#262626" stroke-width="1.1"/>
<line x1="264.80" y1="435.47" x2="267.40" y2="435.47" stroke="#262626" stroke-width="1.0"/>
<line x1="264.80" y1="466.43" x2="267.40" y2="466.43" stroke="#262626" stroke-width="1.0"/>
<line x1="264.80" y1="497.40" x2="267.40" y2="497.40" stroke="#262626" stroke-width="1.0"/>
<text x="263.90" y="404.60" font-size="4.9" text-anchor="end" font-weight="normal" fill="#1a1a1a" stroke="#1a1a1a" stroke-width="0.2">8</text>
<text x="260.58" y="407.35" font-size="8.0" text-anchor="end" font-weight="normal" fill="#1a1a1a" stroke="#1a1a1a" stroke-width="0.2">1.5×10</text>
<text x="263.90" y="435.57" font-size="4.9" text-anchor="end" font-weight="normal" fill="#1a1a1a" stroke="#1a1a1a" stroke-width="0.2">8</text>
<text x="260.58" y="438.32" font-size="8.0" text-anchor="end" font-weight="normal" fill="#1a1a1a" stroke="#1a1a1a" stroke-width="0.2">1.0×10</text>
<text x="263.90" y="466.53" font-size="4.9" text-anchor="end" font-weight="normal" fill="#1a1a1a" stroke="#1a1a1a" stroke-width="0.2">7</text>
<text x="260.58" y="469.28" font-size="8.0" text-anchor="end" font-weight="normal" fill="#1a1a1a" stroke="#1a1a1a" stroke-width="0.2">5.0×10</text>
<text x="264.20" y="500.25" font-size="8.0" text-anchor="end" font-weight="normal" fill="#1a1a1a" stroke="#1a1a1a" stroke-width="0.2">0.0</text>
<line x1="275.30" y1="497.40" x2="275.30" y2="500.00" stroke="#262626" stroke-width="1.0"/>
<text x="275.30" y="507.90" font-size="7.8" text-anchor="middle" font-weight="normal" fill="#1a1a1a" stroke="#1a1a1a" stroke-width="0.2">M</text>
<line x1="290.60" y1="497.40" x2="290.60" y2="500.00" stroke="#262626" stroke-width="1.0"/>
<text x="290.60" y="507.90" font-size="7.8" text-anchor="middle" font-weight="normal" fill="#1a1a1a" stroke="#1a1a1a" stroke-width="0.2">I</text>
<line x1="305.80" y1="497.40" x2="305.80" y2="500.00" stroke="#262626" stroke-width="1.0"/>
<text x="305.80" y="507.90" font-size="7.8" text-anchor="middle" font-weight="normal" fill="#1a1a1a" stroke="#1a1a1a" stroke-width="0.2">III</text>
<line x1="321.60" y1="497.40" x2="321.60" y2="500.00" stroke="#262626" stroke-width="1.0"/>
<text x="321.60" y="507.90" font-size="7.8" text-anchor="middle" font-weight="normal" fill="#1a1a1a" stroke="#1a1a1a" stroke-width="0.2">I+III</text>
<path d="M275.30,424.20 V420.80 H291.10 V424.20" fill="none" stroke="#333" stroke-width="1"/>
<text x="266.40" y="417.86" font-size="8.0" text-anchor="start" font-weight="normal" fill="#1a1a1a" stroke="#1a1a1a" stroke-width="0.2" textLength="35.10" lengthAdjust="spacingAndGlyphs">*p=0.0412</text>
<path d="M275.30,410.70 V407.30 H307.10 V410.70" fill="none" stroke="#333" stroke-width="1"/>
<text x="269.00" y="404.66" font-size="8.0" text-anchor="start" font-weight="normal" fill="#1a1a1a" stroke="#1a1a1a" stroke-width="0.2" textLength="44.00" lengthAdjust="spacingAndGlyphs">ns;p=0.0898</text>
<path d="M275.30,397.30 V393.90 H322.30 V397.30" fill="none" stroke="#333" stroke-width="1"/>
<text x="279.10" y="390.66" font-size="8.0" text-anchor="start" font-weight="normal" fill="#1a1a1a" stroke="#1a1a1a" stroke-width="0.2" textLength="38.90" lengthAdjust="spacingAndGlyphs">**p=0.0037</text>
<rect x="360.65" y="438.50" width="10.00" height="58.90" fill="none" stroke="#7ea6ff" stroke-width="1.2"/>
<rect x="376.45" y="479.20" width="9.90" height="18.20" fill="none" stroke="#7ea6ff" stroke-width="1.2"/>
<rect x="391.75" y="470.60" width="9.90" height="26.80" fill="none" stroke="#7ea6ff" stroke-width="1.2"/>
<rect x="407.25" y="478.20" width="10.10" height="19.20" fill="none" stroke="#7ea6ff" stroke-width="1.2"/>
<line x1="365.65" y1="429.40" x2="365.65" y2="447.00" stroke="#7ea6ff" stroke-width="1.0"/>
<line x1="362.45" y1="429.40" x2="368.85" y2="429.40" stroke="#7ea6ff" stroke-width="1.0"/>
<line x1="362.45" y1="447.00" x2="368.85" y2="447.00" stroke="#7ea6ff" stroke-width="1.0"/>
<rect x="364.00" y="426.50" width="3.60" height="3.60" fill="#5c8fff"/>
<rect x="361.60" y="441.50" width="3.60" height="3.60" fill="#5c8fff"/>
<rect x="366.60" y="441.50" width="3.60" height="3.60" fill="#5c8fff"/>
<line x1="381.40" y1="477.00" x2="381.40" y2="482.00" stroke="#7ea6ff" stroke-width="1.0"/>
<line x1="378.20" y1="477.00" x2="384.60" y2="477.00" stroke="#7ea6ff" stroke-width="1.0"/>
<line x1="378.20" y1="482.00" x2="384.60" y2="482.00" stroke="#7ea6ff" stroke-width="1.0"/>
<rect x="377.20" y="475.50" width="3.60" height="3.60" fill="#5c8fff"/>
<rect x="381.60" y="476.00" width="3.60" height="3.60" fill="#5c8fff"/>
<rect x="379.40" y="480.40" width="3.60" height="3.60" fill="#5c8fff"/>
<line x1="396.70" y1="463.00" x2="396.70" y2="477.00" stroke="#7ea6ff" stroke-width="1.0"/>
<line x1="393.50" y1="463.00" x2="399.90" y2="463.00" stroke="#7ea6ff" stroke-width="1.0"/>
<line x1="393.50" y1="477.00" x2="399.90" y2="477.00" stroke="#7ea6ff" stroke-width="1.0"/>
<rect x="394.90" y="461.20" width="3.60" height="3.60" fill="#5c8fff"/>
<rect x="397.70" y="469.40" width="3.60" height="3.60" fill="#5c8fff"/>
<rect x="392.40" y="474.60" width="3.60" height="3.60" fill="#5c8fff"/>
<line x1="412.30" y1="465.20" x2="412.30" y2="494.90" stroke="#7ea6ff" stroke-width="1.0"/>
<line x1="409.10" y1="465.20" x2="415.50" y2="465.20" stroke="#7ea6ff" stroke-width="1.0"/>
<line x1="409.10" y1="494.90" x2="415.50" y2="494.90" stroke="#7ea6ff" stroke-width="1.0"/>
<rect x="407.90" y="467.80" width="3.60" height="3.60" fill="#5c8fff"/>
<rect x="412.80" y="470.00" width="3.60" height="3.60" fill="#5c8fff"/>
<path d="M412.10,494.40 L414.70,490.21 L409.50,490.21Z" fill="#5c8fff"/>
<path d="M355.80,404.50 H358.40 V497.40 H418.20" fill="none" stroke="#262626" stroke-width="1.1"/>
<line x1="355.80" y1="427.73" x2="358.40" y2="427.73" stroke="#262626" stroke-width="1.0"/>
<line x1="355.80" y1="450.95" x2="358.40" y2="450.95" stroke="#262626" stroke-width="1.0"/>
<line x1="355.80" y1="474.17" x2="358.40" y2="474.17" stroke="#262626" stroke-width="1.0"/>
<line x1="355.80" y1="497.40" x2="358.40" y2="497.40" stroke="#262626" stroke-width="1.0"/>
<text x="354.90" y="404.60" font-size="4.9" text-anchor="end" font-weight="normal" fill="#1a1a1a" stroke="#1a1a1a" stroke-width="0.2">7</text>
<text x="351.58" y="407.35" font-size="8.0" text-anchor="end" font-weight="normal" fill="#1a1a1a" stroke="#1a1a1a" stroke-width="0.2">8×10</text>
<text x="354.90" y="427.83" font-size="4.9" text-anchor="end" font-weight="normal" fill="#1a1a1a" stroke="#1a1a1a" stroke-width="0.2">7</text>
<text x="351.58" y="430.58" font-size="8.0" text-anchor="end" font-weight="normal" fill="#1a1a1a" stroke="#1a1a1a" stroke-width="0.2">6×10</text>
<text x="354.90" y="451.05" font-size="4.9" text-anchor="end" font-weight="normal" fill="#1a1a1a" stroke="#1a1a1a" stroke-width="0.2">7</text>
<text x="351.58" y="453.80" font-size="8.0" text-anchor="end" font-weight="normal" fill="#1a1a1a" stroke="#1a1a1a" stroke-width="0.2">4×10</text>
<text x="354.90" y="474.27" font-size="4.9" text-anchor="end" font-weight="normal" fill="#1a1a1a" stroke="#1a1a1a" stroke-width="0.2">7</text>
<text x="351.58" y="477.02" font-size="8.0" text-anchor="end" font-weight="normal" fill="#1a1a1a" stroke="#1a1a1a" stroke-width="0.2">2×10</text>
<text x="355.20" y="500.25" font-size="8.0" text-anchor="end" font-weight="normal" fill="#1a1a1a" stroke="#1a1a1a" stroke-width="0.2">0</text>
<line x1="365.50" y1="497.40" x2="365.50" y2="500.00" stroke="#262626" stroke-width="1.0"/>
<text x="365.50" y="507.90" font-size="7.8" text-anchor="middle" font-weight="normal" fill="#1a1a1a" stroke="#1a1a1a" stroke-width="0.2">M</text>
<line x1="381.30" y1="497.40" x2="381.30" y2="500.00" stroke="#262626" stroke-width="1.0"/>
<text x="381.30" y="507.90" font-size="7.8" text-anchor="middle" font-weight="normal" fill="#1a1a1a" stroke="#1a1a1a" stroke-width="0.2">I</text>
<line x1="396.50" y1="497.40" x2="396.50" y2="500.00" stroke="#262626" stroke-width="1.0"/>
<text x="396.50" y="507.90" font-size="7.8" text-anchor="middle" font-weight="normal" fill="#1a1a1a" stroke="#1a1a1a" stroke-width="0.2">III</text>
<line x1="411.80" y1="497.40" x2="411.80" y2="500.00" stroke="#262626" stroke-width="1.0"/>
<text x="411.80" y="507.90" font-size="7.8" text-anchor="middle" font-weight="normal" fill="#1a1a1a" stroke="#1a1a1a" stroke-width="0.2">I+III</text>
<path d="M365.50,422.20 V418.80 H381.30 V422.20" fill="none" stroke="#333" stroke-width="1"/>
<text x="352.80" y="416.06" font-size="8.0" text-anchor="start" font-weight="normal" fill="#1a1a1a" stroke="#1a1a1a" stroke-width="0.2" textLength="39.40" lengthAdjust="spacingAndGlyphs">**p=0.0020</text>
<path d="M365.50,409.00 V405.60 H396.80 V409.00" fill="none" stroke="#333" stroke-width="1"/>
<text x="361.70" y="403.06" font-size="8.0" text-anchor="start" font-weight="normal" fill="#1a1a1a" stroke="#1a1a1a" stroke-width="0.2" textLength="39.40" lengthAdjust="spacingAndGlyphs">**p=0.0068</text>
<path d="M365.50,395.50 V392.10 H412.60 V395.50" fill="none" stroke="#333" stroke-width="1"/>
<text x="369.40" y="389.36" font-size="8.0" text-anchor="start" font-weight="normal" fill="#1a1a1a" stroke="#1a1a1a" stroke-width="0.2" textLength="39.30" lengthAdjust="spacingAndGlyphs">**p=0.0022</text>
<text x="477.30" y="387.46" font-size="8" text-anchor="start" font-weight="bold" fill="#1a1a1a" stroke="#1a1a1a" stroke-width="0.1" textLength="59.30" lengthAdjust="spacingAndGlyphs">Heparan sulfate</text>
<text x="483.00" y="397.46" font-size="8" text-anchor="start" font-weight="bold" fill="#1a1a1a" stroke="#1a1a1a" stroke-width="0.1" textLength="48.10" lengthAdjust="spacingAndGlyphs">pretreatment</text>
<text x="507.00" y="406.88" font-size="8" text-anchor="middle" font-weight="normal" fill="#1a1a1a" stroke="#1a1a1a" stroke-width="0.2">or</text>
<text x="471.80" y="417.86" font-size="8" text-anchor="start" font-weight="bold" fill="#1a1a1a" stroke="#1a1a1a" stroke-width="0.1" textLength="70.30" lengthAdjust="spacingAndGlyphs">Mock pretreatment</text>
<text x="425.20" y="440.96" font-size="8" text-anchor="start" font-weight="normal" fill="#ff5f6a" stroke="#ff5f6a" stroke-width="0.2" textLength="46.60" lengthAdjust="spacingAndGlyphs">SARS-CoV-2</text>
<text x="425.20" y="453.26" font-size="8" text-anchor="start" font-weight="normal" fill="#5c8fff" stroke="#5c8fff" stroke-width="0.2" textLength="39.50" lengthAdjust="spacingAndGlyphs">SARS-CoV</text>
<rect x="476.20" y="435.00" width="10.20" height="6.2" fill="none" stroke="#ff7f88" stroke-width="1"/>
<rect x="476.20" y="447.30" width="10.20" height="6.2" fill="none" stroke="#7ea6ff" stroke-width="1"/>
<line x1="493.10" y1="444.40" x2="521.00" y2="444.40" stroke="#111" stroke-width="1.1"/>
<path d="M526.00,444.40 L520.00,441.40 L520.00,447.40Z" fill="#111"/>
<text x="491.60" y="472.66" font-size="8" text-anchor="start" font-weight="bold" fill="#1fae55" stroke="#1fae55" stroke-width="0.1" textLength="41.50" lengthAdjust="spacingAndGlyphs">RT / 1 hour</text>
<text x="547.70" y="405.46" font-size="8" text-anchor="start" font-weight="bold" fill="#1a1a1a" stroke="#1a1a1a" stroke-width="0.1" textLength="93.20" lengthAdjust="spacingAndGlyphs">Heparan sulfate treatment</text>
<text x="594.00" y="412.58" font-size="8" text-anchor="middle" font-weight="normal" fill="#1a1a1a" stroke="#1a1a1a" stroke-width="0.2">or</text>
<text x="566.20" y="421.36" font-size="8" text-anchor="start" font-weight="bold" fill="#1a1a1a" stroke="#1a1a1a" stroke-width="0.1" textLength="56.10" lengthAdjust="spacingAndGlyphs">Mock treatment</text>
<line x1="574.80" y1="444.50" x2="603.10" y2="444.50" stroke="#111" stroke-width="1.1"/>
<path d="M608.10,444.50 L602.10,441.50 L602.10,447.50Z" fill="#111"/>
<text x="616.40" y="447.36" font-size="8" text-anchor="start" font-weight="normal" fill="#1a1a1a" stroke="#1a1a1a" stroke-width="0.2" textLength="54.40" lengthAdjust="spacingAndGlyphs">Sample harvest</text>
<text x="568" y="472.70" font-size="8" font-weight="bold" fill="#ff4f5e" stroke="#ff4f5e" stroke-width="0.1" textLength="56.4" lengthAdjust="spacingAndGlyphs">37<tspan font-size="4.6" dy="-2.4">o</tspan><tspan dy="2.4">C / 24 hours</tspan></text>
<text x="518.00" y="494.46" font-size="8" text-anchor="start" font-weight="normal" fill="#1a1a1a" stroke="#1a1a1a" stroke-width="0.2" textLength="64.80" lengthAdjust="spacingAndGlyphs">Human lung tissue</text>
<path d="M558.10,423.10 C559.32,423.34 560.56,423.78 561.50,424.80 C562.44,425.82 562.48,426.18 562.80,428.20 C563.12,430.22 563.08,430.98 563.10,434.90 C563.12,438.82 563.10,444.40 562.90,447.80 C562.70,451.20 562.66,450.68 562.10,451.90 C561.54,453.12 561.86,453.10 560.10,453.90 C558.34,454.70 556.00,454.94 553.30,455.90 C550.60,456.86 548.90,457.60 546.60,458.70 C544.30,459.80 543.24,460.92 541.80,461.40 C540.36,461.88 540.02,461.78 539.40,461.10 C538.78,460.42 538.76,459.84 538.70,458.00 C538.64,456.16 538.62,454.48 539.10,451.90 C539.58,449.32 540.02,447.82 541.10,445.10 C542.18,442.38 543.00,441.28 544.50,438.30 C546.00,435.32 546.98,432.76 548.60,430.20 C550.22,427.64 551.24,426.82 552.60,425.50 C553.96,424.18 554.30,424.08 555.40,423.60 C556.50,423.12 556.88,422.86 558.10,423.10 Z" fill="#e9658e"/>
<path d="M541.9,460.2 C542.3,457 545,454.5 549.9,452.6 C553,451.4 557,450.6 562.9,447.3" fill="none" stroke="#fff" stroke-width="0.9"/>
<path d="M541.1,450.5 L545.2,447.8 L548.6,445.1 L550.6,441.7 L552.6,439 L556,436.3 L558.7,435.6 L560.8,433.6 L561.5,430.2 M550.6,441.7 L547.9,440.4 L545.2,441 M552.6,439 L553.3,435.6 L552.6,431.6 L553.3,428.2 M553.3,435.6 L550,433.6 L547.9,434.3 M552.6,431.6 L550.6,430.9 M556,436.3 L556.7,439.7 L558.1,443.7 M554.7,440.4 L554.7,445.1 L553.3,449.2 M556.7,439.7 L558.7,441 M548.6,445.1 L549.3,447.5" fill="none" stroke="#bd0e2d" stroke-width="0.95" stroke-linecap="round" stroke-linejoin="round"/>
<text x="85.50" y="543.19" font-size="9.2" text-anchor="start" font-weight="normal" fill="#1a1a1a" stroke="#1a1a1a" stroke-width="0.2" textLength="69.90" lengthAdjust="spacingAndGlyphs">Caco2 cell lysate</text>
<text x="303.60" y="543.19" font-size="9.2" text-anchor="start" font-weight="normal" fill="#1a1a1a" stroke="#1a1a1a" stroke-width="0.2" textLength="77.60" lengthAdjust="spacingAndGlyphs">Caco2 supernatant</text>
<text x="13.00" y="623.50" font-size="9.2" text-anchor="middle" fill="#1a1a1a" stroke="#1a1a1a" stroke-width="0.2" transform="rotate(-90 13.00 623.50)" textLength="79.70" lengthAdjust="spacingAndGlyphs">Virus genome copy</text>
<text x="227.00" y="623.70" font-size="9.2" text-anchor="middle" fill="#1a1a1a" stroke="#1a1a1a" stroke-width="0.2" transform="rotate(-90 227.00 623.70)" textLength="95.50" lengthAdjust="spacingAndGlyphs">Virus genome copy /mL</text>
<text x="97.70" y="705.99" font-size="9.2" text-anchor="start" font-weight="normal" fill="#1a1a1a" stroke="#1a1a1a" stroke-width="0.2" textLength="46.50" lengthAdjust="spacingAndGlyphs">Heparinase</text>
<text x="319.50" y="705.99" font-size="9.2" text-anchor="start" font-weight="normal" fill="#1a1a1a" stroke="#1a1a1a" stroke-width="0.2" textLength="46.30" lengthAdjust="spacingAndGlyphs">Heparinase</text>
<rect x="53.35" y="601.20" width="10.10" height="76.70" fill="none" stroke="#ff7f88" stroke-width="1.2"/>
<rect x="68.75" y="633.10" width="10.10" height="44.80" fill="none" stroke="#ff7f88" stroke-width="1.2"/>
<rect x="84.75" y="615.30" width="9.80" height="62.60" fill="none" stroke="#ff7f88" stroke-width="1.2"/>
<rect x="99.85" y="644.50" width="10.10" height="33.40" fill="none" stroke="#ff7f88" stroke-width="1.2"/>
<line x1="58.40" y1="594.70" x2="58.40" y2="606.80" stroke="#ff7f88" stroke-width="1.0"/>
<line x1="55.20" y1="594.70" x2="61.60" y2="594.70" stroke="#ff7f88" stroke-width="1.0"/>
<line x1="55.20" y1="606.80" x2="61.60" y2="606.80" stroke="#ff7f88" stroke-width="1.0"/>
<path d="M58.30,592.00 L60.90,596.19 L55.70,596.19Z" fill="#ff5f6a"/>
<circle cx="60.90" cy="602.40" r="2.00" fill="#ff5f6a"/>
<circle cx="55.80" cy="606.10" r="2.00" fill="#ff5f6a"/>
<line x1="73.80" y1="626.60" x2="73.80" y2="640.30" stroke="#ff7f88" stroke-width="1.0"/>
<line x1="70.60" y1="626.60" x2="77.00" y2="626.60" stroke="#ff7f88" stroke-width="1.0"/>
<line x1="70.60" y1="640.30" x2="77.00" y2="640.30" stroke="#ff7f88" stroke-width="1.0"/>
<circle cx="71.10" cy="627.30" r="2.00" fill="#ff5f6a"/>
<circle cx="76.30" cy="630.70" r="2.00" fill="#ff5f6a"/>
<path d="M73.60,642.60 L76.20,638.41 L71.00,638.41Z" fill="#ff5f6a"/>
<line x1="89.65" y1="603.90" x2="89.65" y2="627.30" stroke="#ff7f88" stroke-width="1.0"/>
<line x1="86.45" y1="603.90" x2="92.85" y2="603.90" stroke="#ff7f88" stroke-width="1.0"/>
<line x1="86.45" y1="627.30" x2="92.85" y2="627.30" stroke="#ff7f88" stroke-width="1.0"/>
<path d="M89.10,601.60 L91.70,605.79 L86.50,605.79Z" fill="#ff5f6a"/>
<circle cx="89.10" cy="616.30" r="2.00" fill="#ff5f6a"/>
<path d="M89.10,624.30 L91.70,628.49 L86.50,628.49Z" fill="#ff5f6a"/>
<line x1="104.90" y1="640.90" x2="104.90" y2="649.00" stroke="#ff7f88" stroke-width="1.0"/>
<line x1="101.70" y1="640.90" x2="108.10" y2="640.90" stroke="#ff7f88" stroke-width="1.0"/>
<line x1="101.70" y1="649.00" x2="108.10" y2="649.00" stroke="#ff7f88" stroke-width="1.0"/>
<circle cx="102.80" cy="641.20" r="2.00" fill="#ff5f6a"/>
<circle cx="106.50" cy="641.20" r="2.00" fill="#ff5f6a"/>
<path d="M104.70,651.30 L107.30,647.11 L102.10,647.11Z" fill="#ff5f6a"/>
<path d="M47.90,585.00 H50.50 V677.90 H110.20" fill="none" stroke="#262626" stroke-width="1.1"/>
<line x1="47.90" y1="608.23" x2="50.50" y2="608.23" stroke="#262626" stroke-width="1.0"/>
<line x1="47.90" y1="631.45" x2="50.50" y2="631.45" stroke="#262626" stroke-width="1.0"/>
<line x1="47.90" y1="654.67" x2="50.50" y2="654.67" stroke="#262626" stroke-width="1.0"/>
<line x1="47.90" y1="677.90" x2="50.50" y2="677.90" stroke="#262626" stroke-width="1.0"/>
<text x="47.00" y="585.10" font-size="4.9" text-anchor="end" font-weight="normal" fill="#1a1a1a" stroke="#1a1a1a" stroke-width="0.2">9</text>
<text x="43.68" y="587.85" font-size="8.0" text-anchor="end" font-weight="normal" fill="#1a1a1a" stroke="#1a1a1a" stroke-width="0.2">2.0×10</text>
<text x="47.00" y="608.33" font-size="4.9" text-anchor="end" font-weight="normal" fill="#1a1a1a" stroke="#1a1a1a" stroke-width="0.2">9</text>
<text x="43.68" y="611.08" font-size="8.0" text-anchor="end" font-weight="normal" fill="#1a1a1a" stroke="#1a1a1a" stroke-width="0.2">1.5×10</text>
<text x="47.00" y="631.55" font-size="4.9" text-anchor="end" font-weight="normal" fill="#1a1a1a" stroke="#1a1a1a" stroke-width="0.2">9</text>
<text x="43.68" y="634.30" font-size="8.0" text-anchor="end" font-weight="normal" fill="#1a1a1a" stroke="#1a1a1a" stroke-width="0.2">1.0×10</text>
<text x="47.00" y="654.77" font-size="4.9" text-anchor="end" font-weight="normal" fill="#1a1a1a" stroke="#1a1a1a" stroke-width="0.2">8</text>
<text x="43.68" y="657.52" font-size="8.0" text-anchor="end" font-weight="normal" fill="#1a1a1a" stroke="#1a1a1a" stroke-width="0.2">5.0×10</text>
<text x="47.30" y="680.75" font-size="8.0" text-anchor="end" font-weight="normal" fill="#1a1a1a" stroke="#1a1a1a" stroke-width="0.2">0.0</text>
<line x1="58.40" y1="677.90" x2="58.40" y2="680.50" stroke="#262626" stroke-width="1.0"/>
<text x="58.40" y="688.40" font-size="7.8" text-anchor="middle" font-weight="normal" fill="#1a1a1a" stroke="#1a1a1a" stroke-width="0.2">M</text>
<line x1="73.80" y1="677.90" x2="73.80" y2="680.50" stroke="#262626" stroke-width="1.0"/>
<text x="73.80" y="688.40" font-size="7.8" text-anchor="middle" font-weight="normal" fill="#1a1a1a" stroke="#1a1a1a" stroke-width="0.2">I</text>
<line x1="89.80" y1="677.90" x2="89.80" y2="680.50" stroke="#262626" stroke-width="1.0"/>
<text x="89.80" y="688.40" font-size="7.8" text-anchor="middle" font-weight="normal" fill="#1a1a1a" stroke="#1a1a1a" stroke-width="0.2">III</text>
<line x1="104.90" y1="677.90" x2="104.90" y2="680.50" stroke="#262626" stroke-width="1.0"/>
<text x="104.90" y="688.40" font-size="7.8" text-anchor="middle" font-weight="normal" fill="#1a1a1a" stroke="#1a1a1a" stroke-width="0.2">I+III</text>
<path d="M58.40,591.10 V587.70 H74.40 V591.10" fill="none" stroke="#333" stroke-width="1"/>
<text x="46.50" y="585.26" font-size="8.0" text-anchor="start" font-weight="normal" fill="#1a1a1a" stroke="#1a1a1a" stroke-width="0.2" textLength="39.00" lengthAdjust="spacingAndGlyphs">**p=0.0043</text>
<path d="M58.40,578.60 V575.20 H90.80 V578.60" fill="none" stroke="#333" stroke-width="1"/>
<text x="52.60" y="572.56" font-size="8.0" text-anchor="start" font-weight="normal" fill="#1a1a1a" stroke="#1a1a1a" stroke-width="0.2" textLength="43.00" lengthAdjust="spacingAndGlyphs">ns;p=0.0871</text>
<path d="M58.40,564.60 V561.20 H106.20 V564.60" fill="none" stroke="#333" stroke-width="1"/>
<text x="61.60" y="558.16" font-size="8.0" text-anchor="start" font-weight="normal" fill="#1a1a1a" stroke="#1a1a1a" stroke-width="0.2" textLength="42.00" lengthAdjust="spacingAndGlyphs">***p=0.0007</text>
<rect x="144.25" y="615.80" width="10.20" height="62.10" fill="none" stroke="#7ea6ff" stroke-width="1.2"/>
<rect x="159.85" y="630.70" width="9.90" height="47.20" fill="none" stroke="#7ea6ff" stroke-width="1.2"/>
<rect x="175.25" y="636.90" width="10.20" height="41.00" fill="none" stroke="#7ea6ff" stroke-width="1.2"/>
<rect x="190.15" y="643.60" width="10.20" height="34.30" fill="none" stroke="#7ea6ff" stroke-width="1.2"/>
<line x1="149.35" y1="606.10" x2="149.35" y2="626.00" stroke="#7ea6ff" stroke-width="1.0"/>
<line x1="146.15" y1="606.10" x2="152.55" y2="606.10" stroke="#7ea6ff" stroke-width="1.0"/>
<line x1="146.15" y1="626.00" x2="152.55" y2="626.00" stroke="#7ea6ff" stroke-width="1.0"/>
<path d="M149.50,609.70 L152.10,605.51 L146.90,605.51Z" fill="#5c8fff"/>
<rect x="147.70" y="612.40" width="3.60" height="3.60" fill="#5c8fff"/>
<path d="M149.50,627.70 L152.10,623.51 L146.90,623.51Z" fill="#5c8fff"/>
<line x1="164.80" y1="627.00" x2="164.80" y2="632.90" stroke="#7ea6ff" stroke-width="1.0"/>
<line x1="161.60" y1="627.00" x2="168.00" y2="627.00" stroke="#7ea6ff" stroke-width="1.0"/>
<line x1="161.60" y1="632.90" x2="168.00" y2="632.90" stroke="#7ea6ff" stroke-width="1.0"/>
<rect x="160.70" y="625.50" width="3.60" height="3.60" fill="#5c8fff"/>
<rect x="165.00" y="627.00" width="3.60" height="3.60" fill="#5c8fff"/>
<path d="M164.40,635.20 L167.00,631.01 L161.80,631.01Z" fill="#5c8fff"/>
<line x1="180.35" y1="629.10" x2="180.35" y2="645.30" stroke="#7ea6ff" stroke-width="1.0"/>
<line x1="177.15" y1="629.10" x2="183.55" y2="629.10" stroke="#7ea6ff" stroke-width="1.0"/>
<line x1="177.15" y1="645.30" x2="183.55" y2="645.30" stroke="#7ea6ff" stroke-width="1.0"/>
<rect x="175.60" y="628.90" width="3.60" height="3.60" fill="#5c8fff"/>
<rect x="180.60" y="631.10" width="3.60" height="3.60" fill="#5c8fff"/>
<path d="M179.90,648.20 L182.50,644.01 L177.30,644.01Z" fill="#5c8fff"/>
<line x1="195.25" y1="629.10" x2="195.25" y2="655.20" stroke="#7ea6ff" stroke-width="1.0"/>
<line x1="192.05" y1="629.10" x2="198.45" y2="629.10" stroke="#7ea6ff" stroke-width="1.0"/>
<line x1="192.05" y1="655.20" x2="198.45" y2="655.20" stroke="#7ea6ff" stroke-width="1.0"/>
<path d="M195.20,626.80 L197.80,630.99 L192.60,630.99Z" fill="#5c8fff"/>
<rect x="193.40" y="645.10" width="3.60" height="3.60" fill="#5c8fff"/>
<path d="M195.20,651.70 L197.80,655.89 L192.60,655.89Z" fill="#5c8fff"/>
<path d="M138.90,585.00 H141.50 V677.90 H202.30" fill="none" stroke="#262626" stroke-width="1.1"/>
<line x1="138.90" y1="608.23" x2="141.50" y2="608.23" stroke="#262626" stroke-width="1.0"/>
<line x1="138.90" y1="631.45" x2="141.50" y2="631.45" stroke="#262626" stroke-width="1.0"/>
<line x1="138.90" y1="654.67" x2="141.50" y2="654.67" stroke="#262626" stroke-width="1.0"/>
<line x1="138.90" y1="677.90" x2="141.50" y2="677.90" stroke="#262626" stroke-width="1.0"/>
<text x="138.00" y="585.10" font-size="4.9" text-anchor="end" font-weight="normal" fill="#1a1a1a" stroke="#1a1a1a" stroke-width="0.2">10</text>
<text x="131.95" y="587.85" font-size="8.0" text-anchor="end" font-weight="normal" fill="#1a1a1a" stroke="#1a1a1a" stroke-width="0.2">4×10</text>
<text x="138.00" y="608.33" font-size="4.9" text-anchor="end" font-weight="normal" fill="#1a1a1a" stroke="#1a1a1a" stroke-width="0.2">10</text>
<text x="131.95" y="611.08" font-size="8.0" text-anchor="end" font-weight="normal" fill="#1a1a1a" stroke="#1a1a1a" stroke-width="0.2">3×10</text>
<text x="138.00" y="631.55" font-size="4.9" text-anchor="end" font-weight="normal" fill="#1a1a1a" stroke="#1a1a1a" stroke-width="0.2">10</text>
<text x="131.95" y="634.30" font-size="8.0" text-anchor="end" font-weight="normal" fill="#1a1a1a" stroke="#1a1a1a" stroke-width="0.2">2×10</text>
<text x="138.00" y="654.77" font-size="4.9" text-anchor="end" font-weight="normal" fill="#1a1a1a" stroke="#1a1a1a" stroke-width="0.2">10</text>
<text x="131.95" y="657.52" font-size="8.0" text-anchor="end" font-weight="normal" fill="#1a1a1a" stroke="#1a1a1a" stroke-width="0.2">1×10</text>
<text x="138.30" y="680.75" font-size="8.0" text-anchor="end" font-weight="normal" fill="#1a1a1a" stroke="#1a1a1a" stroke-width="0.2">0</text>
<line x1="149.20" y1="677.90" x2="149.20" y2="680.50" stroke="#262626" stroke-width="1.0"/>
<text x="149.20" y="688.40" font-size="7.8" text-anchor="middle" font-weight="normal" fill="#1a1a1a" stroke="#1a1a1a" stroke-width="0.2">M</text>
<line x1="164.60" y1="677.90" x2="164.60" y2="680.50" stroke="#262626" stroke-width="1.0"/>
<text x="164.60" y="688.40" font-size="7.8" text-anchor="middle" font-weight="normal" fill="#1a1a1a" stroke="#1a1a1a" stroke-width="0.2">I</text>
<line x1="180.20" y1="677.90" x2="180.20" y2="680.50" stroke="#262626" stroke-width="1.0"/>
<text x="180.20" y="688.40" font-size="7.8" text-anchor="middle" font-weight="normal" fill="#1a1a1a" stroke="#1a1a1a" stroke-width="0.2">III</text>
<line x1="195.10" y1="677.90" x2="195.10" y2="680.50" stroke="#262626" stroke-width="1.0"/>
<text x="195.10" y="688.40" font-size="7.8" text-anchor="middle" font-weight="normal" fill="#1a1a1a" stroke="#1a1a1a" stroke-width="0.2">I+III</text>
<path d="M149.20,601.70 V598.30 H165.10 V601.70" fill="none" stroke="#333" stroke-width="1"/>
<text x="140.30" y="596.16" font-size="8.0" text-anchor="start" font-weight="normal" fill="#1a1a1a" stroke="#1a1a1a" stroke-width="0.2" textLength="42.90" lengthAdjust="spacingAndGlyphs">ns;p=0.2774</text>
<path d="M149.20,589.30 V585.90 H181.20 V589.30" fill="none" stroke="#333" stroke-width="1"/>
<text x="143.50" y="583.26" font-size="8.0" text-anchor="start" font-weight="normal" fill="#1a1a1a" stroke="#1a1a1a" stroke-width="0.2" textLength="43.40" lengthAdjust="spacingAndGlyphs">ns;p=0.0882</text>
<path d="M149.20,575.60 V572.20 H196.40 V575.60" fill="none" stroke="#333" stroke-width="1"/>
<text x="154.70" y="569.36" font-size="8.0" text-anchor="start" font-weight="normal" fill="#1a1a1a" stroke="#1a1a1a" stroke-width="0.2" textLength="36.70" lengthAdjust="spacingAndGlyphs">*p=0.0278</text>
<rect x="269.85" y="616.30" width="10.10" height="61.60" fill="none" stroke="#ff7f88" stroke-width="1.2"/>
<rect x="285.25" y="643.20" width="10.10" height="34.70" fill="none" stroke="#ff7f88" stroke-width="1.2"/>
<rect x="300.95" y="628.30" width="10.10" height="49.60" fill="none" stroke="#ff7f88" stroke-width="1.2"/>
<rect x="316.35" y="666.30" width="10.10" height="11.60" fill="none" stroke="#ff7f88" stroke-width="1.2"/>
<line x1="274.90" y1="603.20" x2="274.90" y2="629.20" stroke="#ff7f88" stroke-width="1.0"/>
<line x1="271.70" y1="603.20" x2="278.10" y2="603.20" stroke="#ff7f88" stroke-width="1.0"/>
<line x1="271.70" y1="629.20" x2="278.10" y2="629.20" stroke="#ff7f88" stroke-width="1.0"/>
<path d="M274.90,599.50 L277.50,603.69 L272.30,603.69Z" fill="#ff5f6a"/>
<circle cx="274.90" cy="619.90" r="2.00" fill="#ff5f6a"/>
<path d="M274.90,624.90 L277.50,629.09 L272.30,629.09Z" fill="#ff5f6a"/>
<line x1="290.30" y1="639.00" x2="290.30" y2="648.30" stroke="#ff7f88" stroke-width="1.0"/>
<line x1="287.10" y1="639.00" x2="293.50" y2="639.00" stroke="#ff7f88" stroke-width="1.0"/>
<line x1="287.10" y1="648.30" x2="293.50" y2="648.30" stroke="#ff7f88" stroke-width="1.0"/>
<circle cx="287.80" cy="639.30" r="2.00" fill="#ff5f6a"/>
<circle cx="293.40" cy="641.70" r="2.00" fill="#ff5f6a"/>
<path d="M290.40,650.60 L293.00,646.41 L287.80,646.41Z" fill="#ff5f6a"/>
<line x1="306.00" y1="616.70" x2="306.00" y2="640.50" stroke="#ff7f88" stroke-width="1.0"/>
<line x1="302.80" y1="616.70" x2="309.20" y2="616.70" stroke="#ff7f88" stroke-width="1.0"/>
<line x1="302.80" y1="640.50" x2="309.20" y2="640.50" stroke="#ff7f88" stroke-width="1.0"/>
<circle cx="306.00" cy="616.70" r="2.00" fill="#ff5f6a"/>
<circle cx="306.00" cy="629.00" r="2.00" fill="#ff5f6a"/>
<path d="M306.00,637.80 L308.60,641.99 L303.40,641.99Z" fill="#ff5f6a"/>
<line x1="321.40" y1="664.20" x2="321.40" y2="668.30" stroke="#ff7f88" stroke-width="1.0"/>
<line x1="318.20" y1="664.20" x2="324.60" y2="664.20" stroke="#ff7f88" stroke-width="1.0"/>
<line x1="318.20" y1="668.30" x2="324.60" y2="668.30" stroke="#ff7f88" stroke-width="1.0"/>
<circle cx="319.20" cy="663.60" r="2.00" fill="#ff5f6a"/>
<circle cx="322.70" cy="665.30" r="2.00" fill="#ff5f6a"/>
<path d="M321.20,670.60 L323.80,666.41 L318.60,666.41Z" fill="#ff5f6a"/>
<path d="M264.70,585.00 H267.30 V677.90 H327.20" fill="none" stroke="#262626" stroke-width="1.1"/>
<line x1="264.70" y1="615.97" x2="267.30" y2="615.97" stroke="#262626" stroke-width="1.0"/>
<line x1="264.70" y1="646.93" x2="267.30" y2="646.93" stroke="#262626" stroke-width="1.0"/>
<line x1="264.70" y1="677.90" x2="267.30" y2="677.90" stroke="#262626" stroke-width="1.0"/>
<text x="263.80" y="585.10" font-size="4.9" text-anchor="end" font-weight="normal" fill="#1a1a1a" stroke="#1a1a1a" stroke-width="0.2">8</text>
<text x="260.48" y="587.85" font-size="8.0" text-anchor="end" font-weight="normal" fill="#1a1a1a" stroke="#1a1a1a" stroke-width="0.2">6×10</text>
<text x="263.80" y="616.07" font-size="4.9" text-anchor="end" font-weight="normal" fill="#1a1a1a" stroke="#1a1a1a" stroke-width="0.2">8</text>
<text x="260.48" y="618.82" font-size="8.0" text-anchor="end" font-weight="normal" fill="#1a1a1a" stroke="#1a1a1a" stroke-width="0.2">4×10</text>
<text x="263.80" y="647.03" font-size="4.9" text-anchor="end" font-weight="normal" fill="#1a1a1a" stroke="#1a1a1a" stroke-width="0.2">8</text>
<text x="260.48" y="649.78" font-size="8.0" text-anchor="end" font-weight="normal" fill="#1a1a1a" stroke="#1a1a1a" stroke-width="0.2">2×10</text>
<text x="264.10" y="680.75" font-size="8.0" text-anchor="end" font-weight="normal" fill="#1a1a1a" stroke="#1a1a1a" stroke-width="0.2">0</text>
<line x1="274.40" y1="677.90" x2="274.40" y2="680.50" stroke="#262626" stroke-width="1.0"/>
<text x="274.40" y="688.40" font-size="7.8" text-anchor="middle" font-weight="normal" fill="#1a1a1a" stroke="#1a1a1a" stroke-width="0.2">M</text>
<line x1="290.30" y1="677.90" x2="290.30" y2="680.50" stroke="#262626" stroke-width="1.0"/>
<text x="290.30" y="688.40" font-size="7.8" text-anchor="middle" font-weight="normal" fill="#1a1a1a" stroke="#1a1a1a" stroke-width="0.2">I</text>
<line x1="306.30" y1="677.90" x2="306.30" y2="680.50" stroke="#262626" stroke-width="1.0"/>
<text x="306.30" y="688.40" font-size="7.8" text-anchor="middle" font-weight="normal" fill="#1a1a1a" stroke="#1a1a1a" stroke-width="0.2">III</text>
<line x1="321.40" y1="677.90" x2="321.40" y2="680.50" stroke="#262626" stroke-width="1.0"/>
<text x="321.40" y="688.40" font-size="7.8" text-anchor="middle" font-weight="normal" fill="#1a1a1a" stroke="#1a1a1a" stroke-width="0.2">I+III</text>
<path d="M275.00,592.50 V589.10 H290.30 V592.50" fill="none" stroke="#333" stroke-width="1"/>
<text x="267.00" y="586.56" font-size="8.0" text-anchor="start" font-weight="normal" fill="#1a1a1a" stroke="#1a1a1a" stroke-width="0.2" textLength="35.30" lengthAdjust="spacingAndGlyphs">*p=0.0280</text>
<path d="M275.00,579.70 V576.30 H306.30 V579.70" fill="none" stroke="#333" stroke-width="1"/>
<text x="268.80" y="573.86" font-size="8.0" text-anchor="start" font-weight="normal" fill="#1a1a1a" stroke="#1a1a1a" stroke-width="0.2" textLength="43.80" lengthAdjust="spacingAndGlyphs">ns;p=0.1658</text>
<path d="M275.00,565.90 V562.50 H322.20 V565.90" fill="none" stroke="#333" stroke-width="1"/>
<text x="278.40" y="559.56" font-size="8.0" text-anchor="start" font-weight="normal" fill="#1a1a1a" stroke="#1a1a1a" stroke-width="0.2" textLength="41.70" lengthAdjust="spacingAndGlyphs">***p=0.0009</text>
<rect x="360.75" y="613.60" width="10.20" height="64.30" fill="none" stroke="#7ea6ff" stroke-width="1.2"/>
<rect x="376.35" y="634.30" width="10.20" height="43.60" fill="none" stroke="#7ea6ff" stroke-width="1.2"/>
<rect x="391.65" y="634.30" width="10.10" height="43.60" fill="none" stroke="#7ea6ff" stroke-width="1.2"/>
<rect x="406.55" y="649.20" width="10.70" height="28.70" fill="none" stroke="#7ea6ff" stroke-width="1.2"/>
<line x1="365.85" y1="596.20" x2="365.85" y2="629.80" stroke="#7ea6ff" stroke-width="1.0"/>
<line x1="362.65" y1="596.20" x2="369.05" y2="596.20" stroke="#7ea6ff" stroke-width="1.0"/>
<line x1="362.65" y1="629.80" x2="369.05" y2="629.80" stroke="#7ea6ff" stroke-width="1.0"/>
<rect x="364.00" y="593.80" width="3.60" height="3.60" fill="#5c8fff"/>
<rect x="366.60" y="618.30" width="3.60" height="3.60" fill="#5c8fff"/>
<rect x="361.70" y="623.90" width="3.60" height="3.60" fill="#5c8fff"/>
<line x1="381.45" y1="626.60" x2="381.45" y2="642.20" stroke="#7ea6ff" stroke-width="1.0"/>
<line x1="378.25" y1="626.60" x2="384.65" y2="626.60" stroke="#7ea6ff" stroke-width="1.0"/>
<line x1="378.25" y1="642.20" x2="384.65" y2="642.20" stroke="#7ea6ff" stroke-width="1.0"/>
<rect x="377.20" y="625.70" width="3.60" height="3.60" fill="#5c8fff"/>
<rect x="381.80" y="629.40" width="3.60" height="3.60" fill="#5c8fff"/>
<rect x="379.60" y="641.00" width="3.60" height="3.60" fill="#5c8fff"/>
<line x1="396.70" y1="623.80" x2="396.70" y2="643.40" stroke="#7ea6ff" stroke-width="1.0"/>
<line x1="393.50" y1="623.80" x2="399.90" y2="623.80" stroke="#7ea6ff" stroke-width="1.0"/>
<line x1="393.50" y1="643.40" x2="399.90" y2="643.40" stroke="#7ea6ff" stroke-width="1.0"/>
<path d="M396.70,626.50 L399.30,622.31 L394.10,622.31Z" fill="#5c8fff"/>
<rect x="394.90" y="634.40" width="3.60" height="3.60" fill="#5c8fff"/>
<path d="M396.70,640.50 L399.30,644.69 L394.10,644.69Z" fill="#5c8fff"/>
<line x1="411.90" y1="636.20" x2="411.90" y2="662.70" stroke="#7ea6ff" stroke-width="1.0"/>
<line x1="408.70" y1="636.20" x2="415.10" y2="636.20" stroke="#7ea6ff" stroke-width="1.0"/>
<line x1="408.70" y1="662.70" x2="415.10" y2="662.70" stroke="#7ea6ff" stroke-width="1.0"/>
<path d="M411.90,638.90 L414.50,634.71 L409.30,634.71Z" fill="#5c8fff"/>
<rect x="410.10" y="646.00" width="3.60" height="3.60" fill="#5c8fff"/>
<path d="M411.90,664.60 L414.50,660.41 L409.30,660.41Z" fill="#5c8fff"/>
<path d="M355.90,585.00 H358.50 V677.90 H417.80" fill="none" stroke="#262626" stroke-width="1.1"/>
<line x1="355.90" y1="615.97" x2="358.50" y2="615.97" stroke="#262626" stroke-width="1.0"/>
<line x1="355.90" y1="646.93" x2="358.50" y2="646.93" stroke="#262626" stroke-width="1.0"/>
<line x1="355.90" y1="677.90" x2="358.50" y2="677.90" stroke="#262626" stroke-width="1.0"/>
<text x="355.00" y="585.10" font-size="4.9" text-anchor="end" font-weight="normal" fill="#1a1a1a" stroke="#1a1a1a" stroke-width="0.2">10</text>
<text x="348.95" y="587.85" font-size="8.0" text-anchor="end" font-weight="normal" fill="#1a1a1a" stroke="#1a1a1a" stroke-width="0.2">1.5×10</text>
<text x="355.00" y="616.07" font-size="4.9" text-anchor="end" font-weight="normal" fill="#1a1a1a" stroke="#1a1a1a" stroke-width="0.2">10</text>
<text x="348.95" y="618.82" font-size="8.0" text-anchor="end" font-weight="normal" fill="#1a1a1a" stroke="#1a1a1a" stroke-width="0.2">1.0×10</text>
<text x="355.00" y="647.03" font-size="4.9" text-anchor="end" font-weight="normal" fill="#1a1a1a" stroke="#1a1a1a" stroke-width="0.2">9</text>
<text x="351.68" y="649.78" font-size="8.0" text-anchor="end" font-weight="normal" fill="#1a1a1a" stroke="#1a1a1a" stroke-width="0.2">5.0×10</text>
<text x="355.30" y="680.75" font-size="8.0" text-anchor="end" font-weight="normal" fill="#1a1a1a" stroke="#1a1a1a" stroke-width="0.2">0.0</text>
<line x1="366.00" y1="677.90" x2="366.00" y2="680.50" stroke="#262626" stroke-width="1.0"/>
<text x="366.00" y="688.40" font-size="7.8" text-anchor="middle" font-weight="normal" fill="#1a1a1a" stroke="#1a1a1a" stroke-width="0.2">M</text>
<line x1="381.20" y1="677.90" x2="381.20" y2="680.50" stroke="#262626" stroke-width="1.0"/>
<text x="381.20" y="688.40" font-size="7.8" text-anchor="middle" font-weight="normal" fill="#1a1a1a" stroke="#1a1a1a" stroke-width="0.2">I</text>
<line x1="396.60" y1="677.90" x2="396.60" y2="680.50" stroke="#262626" stroke-width="1.0"/>
<text x="396.60" y="688.40" font-size="7.8" text-anchor="middle" font-weight="normal" fill="#1a1a1a" stroke="#1a1a1a" stroke-width="0.2">III</text>
<line x1="412.20" y1="677.90" x2="412.20" y2="680.50" stroke="#262626" stroke-width="1.0"/>
<text x="412.20" y="688.40" font-size="7.8" text-anchor="middle" font-weight="normal" fill="#1a1a1a" stroke="#1a1a1a" stroke-width="0.2">I+III</text>
<path d="M366.00,588.50 V585.10 H381.70 V588.50" fill="none" stroke="#333" stroke-width="1"/>
<text x="356.50" y="582.66" font-size="8.0" text-anchor="start" font-weight="normal" fill="#1a1a1a" stroke="#1a1a1a" stroke-width="0.2" textLength="43.30" lengthAdjust="spacingAndGlyphs">ns;p=0.2840</text>
<path d="M366.00,575.20 V571.80 H397.10 V575.20" fill="none" stroke="#333" stroke-width="1"/>
<text x="359.40" y="570.16" font-size="8.0" text-anchor="start" font-weight="normal" fill="#1a1a1a" stroke="#1a1a1a" stroke-width="0.2" textLength="43.80" lengthAdjust="spacingAndGlyphs">ns;p=0.2840</text>
<path d="M366.00,561.90 V558.50 H413.60 V561.90" fill="none" stroke="#333" stroke-width="1"/>
<text x="371.90" y="556.06" font-size="8.0" text-anchor="start" font-weight="normal" fill="#1a1a1a" stroke="#1a1a1a" stroke-width="0.2" textLength="35.80" lengthAdjust="spacingAndGlyphs">*p=0.0410</text>
<text x="497.90" y="545.09" font-size="9.2" text-anchor="start" font-weight="normal" fill="#1a1a1a" stroke="#1a1a1a" stroke-width="0.2" textLength="89.30" lengthAdjust="spacingAndGlyphs">Lung tissue cell lysate</text>
<text x="446.00" y="625.00" font-size="9.2" text-anchor="middle" fill="#1a1a1a" stroke="#1a1a1a" stroke-width="0.2" transform="rotate(-90 446.00 625.00)" textLength="79.70" lengthAdjust="spacingAndGlyphs">Virus genome copy</text>
<text x="499.00" y="705.79" font-size="9.2" text-anchor="start" font-weight="normal" fill="#1a1a1a" stroke="#1a1a1a" stroke-width="0.2" textLength="98.40" lengthAdjust="spacingAndGlyphs">Heparan sulfate (µg/mL)</text>
<rect x="491.15" y="594.60" width="13.40" height="81.70" fill="none" stroke="#ff7f88" stroke-width="1.2"/>
<rect x="511.35" y="625.90" width="13.60" height="50.40" fill="none" stroke="#ff7f88" stroke-width="1.2"/>
<line x1="497.85" y1="581.00" x2="497.85" y2="607.60" stroke="#ff7f88" stroke-width="1.0"/>
<line x1="494.65" y1="581.00" x2="501.05" y2="581.00" stroke="#ff7f88" stroke-width="1.0"/>
<line x1="494.65" y1="607.60" x2="501.05" y2="607.60" stroke="#ff7f88" stroke-width="1.0"/>
<circle cx="494.80" cy="585.10" r="2.00" fill="#ff5f6a"/>
<circle cx="501.20" cy="587.90" r="2.00" fill="#ff5f6a"/>
<circle cx="497.80" cy="609.20" r="2.00" fill="#ff5f6a"/>
<line x1="518.15" y1="621.90" x2="518.15" y2="628.30" stroke="#ff7f88" stroke-width="1.0"/>
<line x1="514.95" y1="621.90" x2="521.35" y2="621.90" stroke="#ff7f88" stroke-width="1.0"/>
<line x1="514.95" y1="628.30" x2="521.35" y2="628.30" stroke="#ff7f88" stroke-width="1.0"/>
<circle cx="518.30" cy="621.10" r="2.00" fill="#ff5f6a"/>
<circle cx="521.00" cy="626.90" r="2.00" fill="#ff5f6a"/>
<circle cx="515.00" cy="629.20" r="2.00" fill="#ff5f6a"/>
<path d="M485.00,572.50 H487.60 V676.30 H527.10" fill="none" stroke="#262626" stroke-width="1.1"/>
<line x1="485.00" y1="593.26" x2="487.60" y2="593.26" stroke="#262626" stroke-width="1.0"/>
<line x1="485.00" y1="614.02" x2="487.60" y2="614.02" stroke="#262626" stroke-width="1.0"/>
<line x1="485.00" y1="634.78" x2="487.60" y2="634.78" stroke="#262626" stroke-width="1.0"/>
<line x1="485.00" y1="655.54" x2="487.60" y2="655.54" stroke="#262626" stroke-width="1.0"/>
<line x1="485.00" y1="676.30" x2="487.60" y2="676.30" stroke="#262626" stroke-width="1.0"/>
<text x="484.10" y="572.60" font-size="4.9" text-anchor="end" font-weight="normal" fill="#1a1a1a" stroke="#1a1a1a" stroke-width="0.2">7</text>
<text x="480.78" y="575.35" font-size="8.0" text-anchor="end" font-weight="normal" fill="#1a1a1a" stroke="#1a1a1a" stroke-width="0.2">5×10</text>
<text x="484.10" y="593.36" font-size="4.9" text-anchor="end" font-weight="normal" fill="#1a1a1a" stroke="#1a1a1a" stroke-width="0.2">7</text>
<text x="480.78" y="596.11" font-size="8.0" text-anchor="end" font-weight="normal" fill="#1a1a1a" stroke="#1a1a1a" stroke-width="0.2">4×10</text>
<text x="484.10" y="614.12" font-size="4.9" text-anchor="end" font-weight="normal" fill="#1a1a1a" stroke="#1a1a1a" stroke-width="0.2">7</text>
<text x="480.78" y="616.87" font-size="8.0" text-anchor="end" font-weight="normal" fill="#1a1a1a" stroke="#1a1a1a" stroke-width="0.2">3×10</text>
<text x="484.10" y="634.88" font-size="4.9" text-anchor="end" font-weight="normal" fill="#1a1a1a" stroke="#1a1a1a" stroke-width="0.2">7</text>
<text x="480.78" y="637.63" font-size="8.0" text-anchor="end" font-weight="normal" fill="#1a1a1a" stroke="#1a1a1a" stroke-width="0.2">2×10</text>
<text x="484.10" y="655.64" font-size="4.9" text-anchor="end" font-weight="normal" fill="#1a1a1a" stroke="#1a1a1a" stroke-width="0.2">7</text>
<text x="480.78" y="658.39" font-size="8.0" text-anchor="end" font-weight="normal" fill="#1a1a1a" stroke="#1a1a1a" stroke-width="0.2">1×10</text>
<text x="484.40" y="679.15" font-size="8.0" text-anchor="end" font-weight="normal" fill="#1a1a1a" stroke="#1a1a1a" stroke-width="0.2">0</text>
<line x1="497.30" y1="676.30" x2="497.30" y2="678.90" stroke="#262626" stroke-width="1.0"/>
<text x="497.30" y="686.80" font-size="7.8" text-anchor="middle" font-weight="normal" fill="#1a1a1a" stroke="#1a1a1a" stroke-width="0.2">0</text>
<line x1="518.10" y1="676.30" x2="518.10" y2="678.90" stroke="#262626" stroke-width="1.0"/>
<text x="518.10" y="686.80" font-size="7.8" text-anchor="middle" font-weight="normal" fill="#1a1a1a" stroke="#1a1a1a" stroke-width="0.2">1000</text>
<path d="M497.30,576.50 V573.10 H516.50 V576.50" fill="none" stroke="#333" stroke-width="1"/>
<text x="490.70" y="569.36" font-size="8.0" text-anchor="start" font-weight="normal" fill="#1a1a1a" stroke="#1a1a1a" stroke-width="0.2" textLength="34.50" lengthAdjust="spacingAndGlyphs">*p=0.0164</text>
<rect x="577.45" y="607.70" width="13.60" height="68.60" fill="none" stroke="#7ea6ff" stroke-width="1.2"/>
<rect x="598.25" y="635.60" width="13.00" height="40.70" fill="none" stroke="#7ea6ff" stroke-width="1.2"/>
<line x1="584.25" y1="594.70" x2="584.25" y2="620.80" stroke="#7ea6ff" stroke-width="1.0"/>
<line x1="581.05" y1="594.70" x2="587.45" y2="594.70" stroke="#7ea6ff" stroke-width="1.0"/>
<line x1="581.05" y1="620.80" x2="587.45" y2="620.80" stroke="#7ea6ff" stroke-width="1.0"/>
<path d="M584.40,597.60 L587.00,593.41 L581.80,593.41Z" fill="#5c8fff"/>
<rect x="582.60" y="604.20" width="3.60" height="3.60" fill="#5c8fff"/>
<path d="M584.40,623.60 L587.00,619.41 L581.80,619.41Z" fill="#5c8fff"/>
<line x1="604.75" y1="627.10" x2="604.75" y2="644.60" stroke="#7ea6ff" stroke-width="1.0"/>
<line x1="601.55" y1="627.10" x2="607.95" y2="627.10" stroke="#7ea6ff" stroke-width="1.0"/>
<line x1="601.55" y1="644.60" x2="607.95" y2="644.60" stroke="#7ea6ff" stroke-width="1.0"/>
<rect x="599.80" y="625.90" width="3.60" height="3.60" fill="#5c8fff"/>
<rect x="606.00" y="631.90" width="3.60" height="3.60" fill="#5c8fff"/>
<path d="M604.30,647.00 L606.90,642.81 L601.70,642.81Z" fill="#5c8fff"/>
<path d="M571.70,572.50 H574.30 V676.30 H613.50" fill="none" stroke="#262626" stroke-width="1.1"/>
<line x1="571.70" y1="598.45" x2="574.30" y2="598.45" stroke="#262626" stroke-width="1.0"/>
<line x1="571.70" y1="624.40" x2="574.30" y2="624.40" stroke="#262626" stroke-width="1.0"/>
<line x1="571.70" y1="650.35" x2="574.30" y2="650.35" stroke="#262626" stroke-width="1.0"/>
<line x1="571.70" y1="676.30" x2="574.30" y2="676.30" stroke="#262626" stroke-width="1.0"/>
<text x="570.80" y="572.60" font-size="4.9" text-anchor="end" font-weight="normal" fill="#1a1a1a" stroke="#1a1a1a" stroke-width="0.2">6</text>
<text x="567.48" y="575.35" font-size="8.0" text-anchor="end" font-weight="normal" fill="#1a1a1a" stroke="#1a1a1a" stroke-width="0.2">8×10</text>
<text x="570.80" y="598.55" font-size="4.9" text-anchor="end" font-weight="normal" fill="#1a1a1a" stroke="#1a1a1a" stroke-width="0.2">6</text>
<text x="567.48" y="601.30" font-size="8.0" text-anchor="end" font-weight="normal" fill="#1a1a1a" stroke="#1a1a1a" stroke-width="0.2">6×10</text>
<text x="570.80" y="624.50" font-size="4.9" text-anchor="end" font-weight="normal" fill="#1a1a1a" stroke="#1a1a1a" stroke-width="0.2">6</text>
<text x="567.48" y="627.25" font-size="8.0" text-anchor="end" font-weight="normal" fill="#1a1a1a" stroke="#1a1a1a" stroke-width="0.2">4×10</text>
<text x="570.80" y="650.45" font-size="4.9" text-anchor="end" font-weight="normal" fill="#1a1a1a" stroke="#1a1a1a" stroke-width="0.2">6</text>
<text x="567.48" y="653.20" font-size="8.0" text-anchor="end" font-weight="normal" fill="#1a1a1a" stroke="#1a1a1a" stroke-width="0.2">2×10</text>
<text x="571.10" y="679.15" font-size="8.0" text-anchor="end" font-weight="normal" fill="#1a1a1a" stroke="#1a1a1a" stroke-width="0.2">0</text>
<line x1="584.30" y1="676.30" x2="584.30" y2="678.90" stroke="#262626" stroke-width="1.0"/>
<text x="584.30" y="686.80" font-size="7.8" text-anchor="middle" font-weight="normal" fill="#1a1a1a" stroke="#1a1a1a" stroke-width="0.2">0</text>
<line x1="604.70" y1="676.30" x2="604.70" y2="678.90" stroke="#262626" stroke-width="1.0"/>
<text x="604.70" y="686.80" font-size="7.8" text-anchor="middle" font-weight="normal" fill="#1a1a1a" stroke="#1a1a1a" stroke-width="0.2">1000</text>
<path d="M584.30,587.60 V584.20 H602.70 V587.60" fill="none" stroke="#333" stroke-width="1"/>
<text x="576.10" y="579.76" font-size="8.0" text-anchor="start" font-weight="normal" fill="#1a1a1a" stroke="#1a1a1a" stroke-width="0.2" textLength="35.90" lengthAdjust="spacingAndGlyphs">*p=0.0368</text>
</svg></body></html>
